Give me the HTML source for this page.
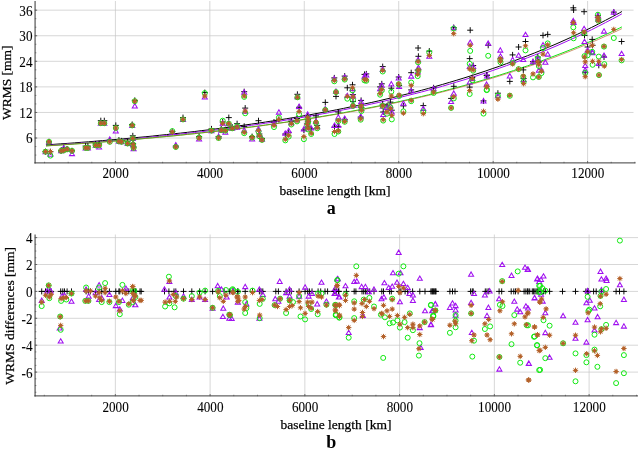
<!DOCTYPE html>
<html><head><meta charset="utf-8"><title>WRMS vs baseline length</title>
<style>.k{font-family:"Liberation Serif","Times New Roman",serif;font-size:14.8px;fill:#000;stroke:#000;stroke-width:0.1px}html,body{margin:0;padding:0;background:#fff}body{width:638px;height:452px;position:relative;overflow:hidden}.t{font-family:"Liberation Serif","Times New Roman",serif;font-size:13.5px;fill:#000;stroke:#000;stroke-width:0.25px}.tb{font-family:"Liberation Serif","Times New Roman",serif;font-size:18px;font-weight:bold;fill:#000}</style></head>
<body>
<svg width="638" height="452" viewBox="0 0 638 452" style="position:absolute;left:0;top:0;will-change:transform;opacity:0.999">
<line x1="115.40" y1="1.0" x2="115.40" y2="163.2" stroke="#c6c6c6" stroke-width="0.7"/>
<line x1="209.84" y1="1.0" x2="209.84" y2="163.2" stroke="#c6c6c6" stroke-width="0.7"/>
<line x1="304.28" y1="1.0" x2="304.28" y2="163.2" stroke="#c6c6c6" stroke-width="0.7"/>
<line x1="398.72" y1="1.0" x2="398.72" y2="163.2" stroke="#c6c6c6" stroke-width="0.7"/>
<line x1="493.16" y1="1.0" x2="493.16" y2="163.2" stroke="#c6c6c6" stroke-width="0.7"/>
<line x1="587.60" y1="1.0" x2="587.60" y2="163.2" stroke="#c6c6c6" stroke-width="0.7"/>
<line x1="34.9" y1="138.03" x2="633.5" y2="138.03" stroke="#c6c6c6" stroke-width="0.7"/>
<line x1="34.9" y1="112.46" x2="633.5" y2="112.46" stroke="#c6c6c6" stroke-width="0.7"/>
<line x1="34.9" y1="86.88" x2="633.5" y2="86.88" stroke="#c6c6c6" stroke-width="0.7"/>
<line x1="34.9" y1="61.31" x2="633.5" y2="61.31" stroke="#c6c6c6" stroke-width="0.7"/>
<line x1="34.9" y1="35.74" x2="633.5" y2="35.74" stroke="#c6c6c6" stroke-width="0.7"/>
<line x1="34.9" y1="10.17" x2="633.5" y2="10.17" stroke="#c6c6c6" stroke-width="0.7"/>
<line x1="115.35" y1="234.5" x2="115.35" y2="396.2" stroke="#c6c6c6" stroke-width="0.7"/>
<line x1="210.10" y1="234.5" x2="210.10" y2="396.2" stroke="#c6c6c6" stroke-width="0.7"/>
<line x1="304.85" y1="234.5" x2="304.85" y2="396.2" stroke="#c6c6c6" stroke-width="0.7"/>
<line x1="399.60" y1="234.5" x2="399.60" y2="396.2" stroke="#c6c6c6" stroke-width="0.7"/>
<line x1="494.35" y1="234.5" x2="494.35" y2="396.2" stroke="#c6c6c6" stroke-width="0.7"/>
<line x1="589.10" y1="234.5" x2="589.10" y2="396.2" stroke="#c6c6c6" stroke-width="0.7"/>
<line x1="34.9" y1="372.10" x2="638" y2="372.10" stroke="#c6c6c6" stroke-width="0.7"/>
<line x1="34.9" y1="345.20" x2="638" y2="345.20" stroke="#c6c6c6" stroke-width="0.7"/>
<line x1="34.9" y1="318.30" x2="638" y2="318.30" stroke="#c6c6c6" stroke-width="0.7"/>
<line x1="34.9" y1="291.40" x2="638" y2="291.40" stroke="#c6c6c6" stroke-width="0.7"/>
<line x1="34.9" y1="264.50" x2="638" y2="264.50" stroke="#c6c6c6" stroke-width="0.7"/>
<line x1="34.9" y1="237.60" x2="638" y2="237.60" stroke="#c6c6c6" stroke-width="0.7"/>
<line x1="35.1" y1="1.0" x2="35.1" y2="163.6" stroke="#777" stroke-width="1.5"/>
<line x1="34.4" y1="162.89999999999998" x2="635.5" y2="162.89999999999998" stroke="#333" stroke-width="0.95"/>
<line x1="44.57" y1="163.2" x2="44.57" y2="161.79999999999998" stroke="#555" stroke-width="0.8"/>
<line x1="68.18" y1="163.2" x2="68.18" y2="161.79999999999998" stroke="#555" stroke-width="0.8"/>
<line x1="91.79" y1="163.2" x2="91.79" y2="161.79999999999998" stroke="#555" stroke-width="0.8"/>
<line x1="115.40" y1="163.2" x2="115.40" y2="161.0" stroke="#555" stroke-width="0.8"/>
<line x1="139.01" y1="163.2" x2="139.01" y2="161.79999999999998" stroke="#555" stroke-width="0.8"/>
<line x1="162.62" y1="163.2" x2="162.62" y2="161.79999999999998" stroke="#555" stroke-width="0.8"/>
<line x1="186.23" y1="163.2" x2="186.23" y2="161.79999999999998" stroke="#555" stroke-width="0.8"/>
<line x1="209.84" y1="163.2" x2="209.84" y2="161.0" stroke="#555" stroke-width="0.8"/>
<line x1="233.45" y1="163.2" x2="233.45" y2="161.79999999999998" stroke="#555" stroke-width="0.8"/>
<line x1="257.06" y1="163.2" x2="257.06" y2="161.79999999999998" stroke="#555" stroke-width="0.8"/>
<line x1="280.67" y1="163.2" x2="280.67" y2="161.79999999999998" stroke="#555" stroke-width="0.8"/>
<line x1="304.28" y1="163.2" x2="304.28" y2="161.0" stroke="#555" stroke-width="0.8"/>
<line x1="327.89" y1="163.2" x2="327.89" y2="161.79999999999998" stroke="#555" stroke-width="0.8"/>
<line x1="351.50" y1="163.2" x2="351.50" y2="161.79999999999998" stroke="#555" stroke-width="0.8"/>
<line x1="375.11" y1="163.2" x2="375.11" y2="161.79999999999998" stroke="#555" stroke-width="0.8"/>
<line x1="398.72" y1="163.2" x2="398.72" y2="161.0" stroke="#555" stroke-width="0.8"/>
<line x1="422.33" y1="163.2" x2="422.33" y2="161.79999999999998" stroke="#555" stroke-width="0.8"/>
<line x1="445.94" y1="163.2" x2="445.94" y2="161.79999999999998" stroke="#555" stroke-width="0.8"/>
<line x1="469.55" y1="163.2" x2="469.55" y2="161.79999999999998" stroke="#555" stroke-width="0.8"/>
<line x1="493.16" y1="163.2" x2="493.16" y2="161.0" stroke="#555" stroke-width="0.8"/>
<line x1="516.77" y1="163.2" x2="516.77" y2="161.79999999999998" stroke="#555" stroke-width="0.8"/>
<line x1="540.38" y1="163.2" x2="540.38" y2="161.79999999999998" stroke="#555" stroke-width="0.8"/>
<line x1="563.99" y1="163.2" x2="563.99" y2="161.79999999999998" stroke="#555" stroke-width="0.8"/>
<line x1="587.60" y1="163.2" x2="587.60" y2="161.0" stroke="#555" stroke-width="0.8"/>
<line x1="611.21" y1="163.2" x2="611.21" y2="161.79999999999998" stroke="#555" stroke-width="0.8"/>
<line x1="634.82" y1="163.2" x2="634.82" y2="161.79999999999998" stroke="#555" stroke-width="0.8"/>
<line x1="34.9" y1="155.08" x2="36.3" y2="155.08" stroke="#555" stroke-width="0.8"/>
<line x1="34.9" y1="146.55" x2="36.3" y2="146.55" stroke="#555" stroke-width="0.8"/>
<line x1="34.9" y1="138.03" x2="36.3" y2="138.03" stroke="#555" stroke-width="0.8"/>
<line x1="34.9" y1="129.50" x2="36.3" y2="129.50" stroke="#555" stroke-width="0.8"/>
<line x1="34.9" y1="120.98" x2="36.3" y2="120.98" stroke="#555" stroke-width="0.8"/>
<line x1="34.9" y1="112.46" x2="36.3" y2="112.46" stroke="#555" stroke-width="0.8"/>
<line x1="34.9" y1="103.93" x2="36.3" y2="103.93" stroke="#555" stroke-width="0.8"/>
<line x1="34.9" y1="95.41" x2="36.3" y2="95.41" stroke="#555" stroke-width="0.8"/>
<line x1="34.9" y1="86.88" x2="36.3" y2="86.88" stroke="#555" stroke-width="0.8"/>
<line x1="34.9" y1="78.36" x2="36.3" y2="78.36" stroke="#555" stroke-width="0.8"/>
<line x1="34.9" y1="69.84" x2="36.3" y2="69.84" stroke="#555" stroke-width="0.8"/>
<line x1="34.9" y1="61.31" x2="36.3" y2="61.31" stroke="#555" stroke-width="0.8"/>
<line x1="34.9" y1="52.79" x2="36.3" y2="52.79" stroke="#555" stroke-width="0.8"/>
<line x1="34.9" y1="44.26" x2="36.3" y2="44.26" stroke="#555" stroke-width="0.8"/>
<line x1="34.9" y1="35.74" x2="36.3" y2="35.74" stroke="#555" stroke-width="0.8"/>
<line x1="34.9" y1="27.22" x2="36.3" y2="27.22" stroke="#555" stroke-width="0.8"/>
<line x1="34.9" y1="18.69" x2="36.3" y2="18.69" stroke="#555" stroke-width="0.8"/>
<line x1="34.9" y1="10.17" x2="36.3" y2="10.17" stroke="#555" stroke-width="0.8"/>
<line x1="34.9" y1="138.03" x2="37.199999999999996" y2="138.03" stroke="#555" stroke-width="0.8"/>
<line x1="34.9" y1="112.46" x2="37.199999999999996" y2="112.46" stroke="#555" stroke-width="0.8"/>
<line x1="34.9" y1="86.88" x2="37.199999999999996" y2="86.88" stroke="#555" stroke-width="0.8"/>
<line x1="34.9" y1="61.31" x2="37.199999999999996" y2="61.31" stroke="#555" stroke-width="0.8"/>
<line x1="34.9" y1="35.74" x2="37.199999999999996" y2="35.74" stroke="#555" stroke-width="0.8"/>
<line x1="34.9" y1="10.17" x2="37.199999999999996" y2="10.17" stroke="#555" stroke-width="0.8"/>
<line x1="35.1" y1="234.5" x2="35.1" y2="396.59999999999997" stroke="#777" stroke-width="1.5"/>
<line x1="34.4" y1="395.9" x2="638" y2="395.9" stroke="#333" stroke-width="0.95"/>
<line x1="44.29" y1="396.2" x2="44.29" y2="394.8" stroke="#555" stroke-width="0.8"/>
<line x1="67.97" y1="396.2" x2="67.97" y2="394.8" stroke="#555" stroke-width="0.8"/>
<line x1="91.66" y1="396.2" x2="91.66" y2="394.8" stroke="#555" stroke-width="0.8"/>
<line x1="115.35" y1="396.2" x2="115.35" y2="394.0" stroke="#555" stroke-width="0.8"/>
<line x1="139.04" y1="396.2" x2="139.04" y2="394.8" stroke="#555" stroke-width="0.8"/>
<line x1="162.72" y1="396.2" x2="162.72" y2="394.8" stroke="#555" stroke-width="0.8"/>
<line x1="186.41" y1="396.2" x2="186.41" y2="394.8" stroke="#555" stroke-width="0.8"/>
<line x1="210.10" y1="396.2" x2="210.10" y2="394.0" stroke="#555" stroke-width="0.8"/>
<line x1="233.79" y1="396.2" x2="233.79" y2="394.8" stroke="#555" stroke-width="0.8"/>
<line x1="257.48" y1="396.2" x2="257.48" y2="394.8" stroke="#555" stroke-width="0.8"/>
<line x1="281.16" y1="396.2" x2="281.16" y2="394.8" stroke="#555" stroke-width="0.8"/>
<line x1="304.85" y1="396.2" x2="304.85" y2="394.0" stroke="#555" stroke-width="0.8"/>
<line x1="328.54" y1="396.2" x2="328.54" y2="394.8" stroke="#555" stroke-width="0.8"/>
<line x1="352.23" y1="396.2" x2="352.23" y2="394.8" stroke="#555" stroke-width="0.8"/>
<line x1="375.91" y1="396.2" x2="375.91" y2="394.8" stroke="#555" stroke-width="0.8"/>
<line x1="399.60" y1="396.2" x2="399.60" y2="394.0" stroke="#555" stroke-width="0.8"/>
<line x1="423.29" y1="396.2" x2="423.29" y2="394.8" stroke="#555" stroke-width="0.8"/>
<line x1="446.98" y1="396.2" x2="446.98" y2="394.8" stroke="#555" stroke-width="0.8"/>
<line x1="470.66" y1="396.2" x2="470.66" y2="394.8" stroke="#555" stroke-width="0.8"/>
<line x1="494.35" y1="396.2" x2="494.35" y2="394.0" stroke="#555" stroke-width="0.8"/>
<line x1="518.04" y1="396.2" x2="518.04" y2="394.8" stroke="#555" stroke-width="0.8"/>
<line x1="541.73" y1="396.2" x2="541.73" y2="394.8" stroke="#555" stroke-width="0.8"/>
<line x1="565.41" y1="396.2" x2="565.41" y2="394.8" stroke="#555" stroke-width="0.8"/>
<line x1="589.10" y1="396.2" x2="589.10" y2="394.0" stroke="#555" stroke-width="0.8"/>
<line x1="612.79" y1="396.2" x2="612.79" y2="394.8" stroke="#555" stroke-width="0.8"/>
<line x1="636.48" y1="396.2" x2="636.48" y2="394.8" stroke="#555" stroke-width="0.8"/>
<line x1="34.9" y1="392.27" x2="36.3" y2="392.27" stroke="#555" stroke-width="0.8"/>
<line x1="34.9" y1="385.55" x2="36.3" y2="385.55" stroke="#555" stroke-width="0.8"/>
<line x1="34.9" y1="378.82" x2="36.3" y2="378.82" stroke="#555" stroke-width="0.8"/>
<line x1="34.9" y1="372.10" x2="36.3" y2="372.10" stroke="#555" stroke-width="0.8"/>
<line x1="34.9" y1="365.38" x2="36.3" y2="365.38" stroke="#555" stroke-width="0.8"/>
<line x1="34.9" y1="358.65" x2="36.3" y2="358.65" stroke="#555" stroke-width="0.8"/>
<line x1="34.9" y1="351.92" x2="36.3" y2="351.92" stroke="#555" stroke-width="0.8"/>
<line x1="34.9" y1="345.20" x2="36.3" y2="345.20" stroke="#555" stroke-width="0.8"/>
<line x1="34.9" y1="338.47" x2="36.3" y2="338.47" stroke="#555" stroke-width="0.8"/>
<line x1="34.9" y1="331.75" x2="36.3" y2="331.75" stroke="#555" stroke-width="0.8"/>
<line x1="34.9" y1="325.02" x2="36.3" y2="325.02" stroke="#555" stroke-width="0.8"/>
<line x1="34.9" y1="318.30" x2="36.3" y2="318.30" stroke="#555" stroke-width="0.8"/>
<line x1="34.9" y1="311.57" x2="36.3" y2="311.57" stroke="#555" stroke-width="0.8"/>
<line x1="34.9" y1="304.85" x2="36.3" y2="304.85" stroke="#555" stroke-width="0.8"/>
<line x1="34.9" y1="298.12" x2="36.3" y2="298.12" stroke="#555" stroke-width="0.8"/>
<line x1="34.9" y1="291.40" x2="36.3" y2="291.40" stroke="#555" stroke-width="0.8"/>
<line x1="34.9" y1="284.67" x2="36.3" y2="284.67" stroke="#555" stroke-width="0.8"/>
<line x1="34.9" y1="277.95" x2="36.3" y2="277.95" stroke="#555" stroke-width="0.8"/>
<line x1="34.9" y1="271.22" x2="36.3" y2="271.22" stroke="#555" stroke-width="0.8"/>
<line x1="34.9" y1="264.50" x2="36.3" y2="264.50" stroke="#555" stroke-width="0.8"/>
<line x1="34.9" y1="257.77" x2="36.3" y2="257.77" stroke="#555" stroke-width="0.8"/>
<line x1="34.9" y1="251.05" x2="36.3" y2="251.05" stroke="#555" stroke-width="0.8"/>
<line x1="34.9" y1="244.32" x2="36.3" y2="244.32" stroke="#555" stroke-width="0.8"/>
<line x1="34.9" y1="237.60" x2="36.3" y2="237.60" stroke="#555" stroke-width="0.8"/>
<line x1="34.9" y1="372.10" x2="37.199999999999996" y2="372.10" stroke="#555" stroke-width="0.8"/>
<line x1="34.9" y1="345.20" x2="37.199999999999996" y2="345.20" stroke="#555" stroke-width="0.8"/>
<line x1="34.9" y1="318.30" x2="37.199999999999996" y2="318.30" stroke="#555" stroke-width="0.8"/>
<line x1="34.9" y1="291.40" x2="37.199999999999996" y2="291.40" stroke="#555" stroke-width="0.8"/>
<line x1="34.9" y1="264.50" x2="37.199999999999996" y2="264.50" stroke="#555" stroke-width="0.8"/>
<line x1="34.9" y1="237.60" x2="37.199999999999996" y2="237.60" stroke="#555" stroke-width="0.8"/>
<text transform="translate(115.60,178.0) scale(0.89,1)" text-anchor="middle" class="k">2000</text>
<text transform="translate(115.55,411.5) scale(0.89,1)" text-anchor="middle" class="k">2000</text>
<text transform="translate(210.04,178.0) scale(0.89,1)" text-anchor="middle" class="k">4000</text>
<text transform="translate(210.30,411.5) scale(0.89,1)" text-anchor="middle" class="k">4000</text>
<text transform="translate(304.48,178.0) scale(0.89,1)" text-anchor="middle" class="k">6000</text>
<text transform="translate(305.05,411.5) scale(0.89,1)" text-anchor="middle" class="k">6000</text>
<text transform="translate(398.92,178.0) scale(0.89,1)" text-anchor="middle" class="k">8000</text>
<text transform="translate(399.80,411.5) scale(0.89,1)" text-anchor="middle" class="k">8000</text>
<text transform="translate(493.36,178.0) scale(0.89,1)" text-anchor="middle" class="k">10000</text>
<text transform="translate(494.55,411.5) scale(0.89,1)" text-anchor="middle" class="k">10000</text>
<text transform="translate(587.80,178.0) scale(0.89,1)" text-anchor="middle" class="k">12000</text>
<text transform="translate(589.30,411.5) scale(0.89,1)" text-anchor="middle" class="k">12000</text>
<text transform="translate(32.5,143.43) scale(0.89,1)" text-anchor="end" class="k">6</text>
<text transform="translate(32.5,117.86) scale(0.89,1)" text-anchor="end" class="k">12</text>
<text transform="translate(32.5,92.28) scale(0.89,1)" text-anchor="end" class="k">18</text>
<text transform="translate(32.5,66.71) scale(0.89,1)" text-anchor="end" class="k">24</text>
<text transform="translate(32.5,41.14) scale(0.89,1)" text-anchor="end" class="k">30</text>
<text transform="translate(32.5,15.57) scale(0.89,1)" text-anchor="end" class="k">36</text>
<text transform="translate(32.5,377.50) scale(0.89,1)" text-anchor="end" class="k">-6</text>
<text transform="translate(32.5,350.60) scale(0.89,1)" text-anchor="end" class="k">-4</text>
<text transform="translate(32.5,323.70) scale(0.89,1)" text-anchor="end" class="k">-2</text>
<text transform="translate(32.5,296.80) scale(0.89,1)" text-anchor="end" class="k">0</text>
<text transform="translate(32.5,269.90) scale(0.89,1)" text-anchor="end" class="k">2</text>
<text transform="translate(32.5,243.00) scale(0.89,1)" text-anchor="end" class="k">4</text>
<text x="335.0" y="195.2" text-anchor="middle" class="t">baseline length [km]</text>
<text x="336.0" y="428.6" text-anchor="middle" class="t">baseline length [km]</text>
<text transform="translate(11.4,82.7) rotate(-90)" text-anchor="middle" class="t">WRMS [mm]</text>
<text transform="translate(13.6,315.8) rotate(-90)" text-anchor="middle" class="t">WRMS differences [mm]</text>
<text x="331.3" y="214.3" text-anchor="middle" class="tb">a</text>
<text x="331.3" y="447.6" text-anchor="middle" class="tb">b</text>
<polyline points="46.0,144.9 53.1,144.4 60.2,143.9 67.2,143.4 74.3,142.9 81.4,142.3 88.5,141.8 95.6,141.2 102.7,140.6 109.7,140.0 116.8,139.4 123.9,138.8 131.0,138.1 138.1,137.4 145.1,136.8 152.2,136.1 159.3,135.3 166.4,134.6 173.5,133.8 180.6,133.1 187.6,132.3 194.7,131.5 201.8,130.6 208.9,129.8 216.0,128.9 223.1,128.0 230.1,127.0 237.2,126.1 244.3,125.1 251.4,124.1 258.5,123.1 265.6,122.0 272.6,120.9 279.7,119.8 286.8,118.7 293.9,117.5 301.0,116.3 308.1,115.1 315.1,113.8 322.2,112.5 329.3,111.2 336.4,109.8 343.5,108.4 350.6,106.9 357.6,105.5 364.7,103.9 371.8,102.4 378.9,100.8 386.0,99.1 393.1,97.5 400.1,95.7 407.2,94.0 414.3,92.2 421.4,90.3 428.5,88.4 435.6,86.4 442.6,84.4 449.7,82.3 456.8,80.2 463.9,78.0 471.0,75.8 478.0,73.5 485.1,71.2 492.2,68.7 499.3,66.3 506.4,63.7 513.5,61.1 520.5,58.4 527.6,55.7 534.7,52.9 541.8,50.0 548.9,47.0 556.0,44.0 563.0,40.9 570.1,37.7 577.2,34.4 584.3,31.0 591.4,27.5 598.5,24.0 605.5,20.3 612.6,16.6 619.7,12.8 621.9,11.5" fill="none" stroke="#000000" stroke-width="1"/>
<polyline points="46.0,145.6 53.1,145.1 60.2,144.6 67.2,144.1 74.3,143.6 81.4,143.1 88.5,142.6 95.6,142.0 102.7,141.4 109.7,140.9 116.8,140.3 123.9,139.6 131.0,139.0 138.1,138.4 145.1,137.7 152.2,137.0 159.3,136.3 166.4,135.6 173.5,134.8 180.6,134.1 187.6,133.3 194.7,132.5 201.8,131.7 208.9,130.8 216.0,130.0 223.1,129.1 230.1,128.2 237.2,127.2 244.3,126.3 251.4,125.3 258.5,124.3 265.6,123.2 272.6,122.2 279.7,121.1 286.8,120.0 293.9,118.8 301.0,117.6 308.1,116.4 315.1,115.2 322.2,113.9 329.3,112.6 336.4,111.2 343.5,109.8 350.6,108.4 357.6,107.0 364.7,105.5 371.8,103.9 378.9,102.4 386.0,100.7 393.1,99.1 400.1,97.4 407.2,95.6 414.3,93.8 421.4,92.0 428.5,90.1 435.6,88.2 442.6,86.2 449.7,84.1 456.8,82.0 463.9,79.9 471.0,77.7 478.0,75.4 485.1,73.1 492.2,70.7 499.3,68.2 506.4,65.7 513.5,63.1 520.5,60.5 527.6,57.7 534.7,55.0 541.8,52.1 548.9,49.1 556.0,46.1 563.0,43.0 570.1,39.8 577.2,36.6 584.3,33.2 591.4,29.8 598.5,26.2 605.5,22.6 612.6,18.9 619.7,15.1 621.9,13.8" fill="none" stroke="#a010f0" stroke-width="1"/>
<polyline points="46.0,145.9 53.1,145.4 60.2,145.0 67.2,144.5 74.3,144.0 81.4,143.5 88.5,143.0 95.6,142.5 102.7,142.0 109.7,141.4 116.8,140.8 123.9,140.3 131.0,139.7 138.1,139.1 145.1,138.4 152.2,137.8 159.3,137.1 166.4,136.5 173.5,135.8 180.6,135.1 187.6,134.3 194.7,133.6 201.8,132.8 208.9,132.0 216.0,131.2 223.1,130.4 230.1,129.6 237.2,128.7 244.3,127.8 251.4,126.9 258.5,126.0 265.6,125.0 272.6,124.0 279.7,123.0 286.8,122.0 293.9,120.9 301.0,119.8 308.1,118.7 315.1,117.6 322.2,116.4 329.3,115.2 336.4,114.0 343.5,112.7 350.6,111.4 357.6,110.1 364.7,108.7 371.8,107.3 378.9,105.9 386.0,104.4 393.1,102.9 400.1,101.4 407.2,99.8 414.3,98.2 421.4,96.5 428.5,94.8 435.6,93.1 442.6,91.3 449.7,89.4 456.8,87.5 463.9,85.6 471.0,83.6 478.0,81.6 485.1,79.5 492.2,77.3 499.3,75.2 506.4,72.9 513.5,70.6 520.5,68.2 527.6,65.8 534.7,63.3 541.8,60.8 548.9,58.1 556.0,55.4 563.0,52.7 570.1,49.9 577.2,47.0 584.3,44.0 591.4,41.0 598.5,37.8 605.5,34.6 612.6,31.4 619.7,28.0 621.9,26.9" fill="none" stroke="#10e810" stroke-width="1"/>
<polyline points="46.0,145.9 53.1,145.5 60.2,145.0 67.2,144.5 74.3,144.0 81.4,143.6 88.5,143.0 95.6,142.5 102.7,142.0 109.7,141.4 116.8,140.9 123.9,140.3 131.0,139.7 138.1,139.1 145.1,138.5 152.2,137.9 159.3,137.2 166.4,136.5 173.5,135.9 180.6,135.2 187.6,134.4 194.7,133.7 201.8,132.9 208.9,132.2 216.0,131.4 223.1,130.6 230.1,129.7 237.2,128.9 244.3,128.0 251.4,127.1 258.5,126.2 265.6,125.2 272.6,124.2 279.7,123.2 286.8,122.2 293.9,121.2 301.0,120.1 308.1,119.0 315.1,117.9 322.2,116.7 329.3,115.5 336.4,114.3 343.5,113.1 350.6,111.8 357.6,110.5 364.7,109.1 371.8,107.8 378.9,106.3 386.0,104.9 393.1,103.4 400.1,101.9 407.2,100.3 414.3,98.7 421.4,97.1 428.5,95.4 435.6,93.7 442.6,91.9 449.7,90.1 456.8,88.2 463.9,86.3 471.0,84.4 478.0,82.4 485.1,80.3 492.2,78.2 499.3,76.0 506.4,73.8 513.5,71.5 520.5,69.2 527.6,66.8 534.7,64.4 541.8,61.9 548.9,59.3 556.0,56.7 563.0,53.9 570.1,51.2 577.2,48.3 584.3,45.4 591.4,42.4 598.5,39.4 605.5,36.2 612.6,33.0 619.7,29.7 621.9,28.6" fill="none" stroke="#b4622a" stroke-width="1" stroke-opacity="0.65"/>
<path d="M42.5 151.7H48.5M45.5 148.7V154.7M46.0 141.8H52.0M49.0 138.8V144.8M47.4 151.7H53.4M50.4 148.7V154.7M58.1 150.8H64.1M61.1 147.8V153.8M60.7 147.9H66.7M63.7 144.9V150.9M64.1 149.2H70.1M67.1 146.2V152.2M69.0 150.8H75.0M72.0 147.8V153.8M82.6 146.1H88.6M85.6 143.1V149.1M84.9 146.1H90.9M87.9 143.1V149.1M92.6 143.9H98.6M95.6 140.9V146.9M96.1 143.9H102.1M99.1 140.9V146.9M97.8 120.7H103.8M100.8 117.7V123.7M101.3 120.7H107.3M104.3 117.7V123.7M106.8 140.1H112.8M109.8 137.1V143.1M112.8 125.4H118.8M115.8 122.4V128.4M115.9 140.1H121.9M118.9 137.1V143.1M118.5 140.9H124.5M121.5 137.9V143.9M124.6 141.8H130.6M127.6 138.8V144.8M129.2 124.5H135.2M132.2 121.5V127.5M129.8 135.8H135.8M132.8 132.8V138.8M130.1 143.5H136.1M133.1 140.5V146.5M130.6 147.0H136.6M133.6 144.0V150.0M131.8 100.4H137.8M134.8 97.4V103.4M169.3 131.5H175.3M172.3 128.5V134.5M172.8 146.1H178.8M175.8 143.1V149.1M180.0 117.6H186.0M183.0 114.6V120.6M196.1 136.6H202.1M199.1 133.6V139.6M201.8 92.6H207.8M204.8 89.6V95.6M208.5 128.9H214.5M211.5 125.9V131.9M215.6 136.6H221.6M218.6 133.6V139.6M218.2 128.9H224.2M221.2 125.9V131.9M219.7 122.0H225.7M222.7 119.0V125.0M222.3 129.7H228.3M225.3 126.7V132.7M225.8 117.6H231.8M228.8 114.6V120.6M229.2 127.1H235.2M232.2 124.1V130.1M234.1 123.7H240.1M237.1 120.7V126.7M241.2 91.7H247.2M244.2 88.7V94.7M242.2 108.1H248.2M245.2 105.1V111.1M241.2 126.3H247.2M244.2 123.3V129.3M249.1 136.6H255.1M252.1 133.6V139.6M255.5 120.7H261.5M258.5 117.7V123.7M256.4 134.0H262.4M259.4 131.0V137.0M259.0 138.4H265.0M262.0 135.4V141.4M271.0 122.0H277.0M274.0 119.0V125.0M275.9 119.4H281.9M278.9 116.4V122.4M282.3 134.0H288.3M285.3 131.0V137.0M285.7 132.3H291.7M288.7 129.3V135.3M288.3 121.1H294.3M291.3 118.1V124.1M294.4 94.3H300.4M297.4 91.3V97.3M296.1 107.3H302.1M299.1 104.3V110.3M294.0 118.5H300.0M297.0 115.5V121.5M300.9 130.1H306.9M303.9 127.1V133.1M304.7 115.9H310.7M307.7 112.9V118.9M305.1 119.7H311.1M308.1 116.7V122.7M304.4 123.7H310.4M307.4 120.7V126.7M305.1 127.1H311.1M308.1 124.1V130.1M308.2 128.9H314.2M311.2 125.9V131.9M313.0 115.9H319.0M316.0 112.9V118.9M314.2 125.4H320.2M317.2 122.4V128.4M322.3 102.4H328.3M325.3 99.4V105.4M331.5 127.1H337.5M334.5 124.1V130.1M335.3 126.6H341.3M338.3 123.6V129.6M335.3 112.0H341.3M338.3 109.0V115.0M341.7 119.4H347.7M344.7 116.4V122.4M333.0 96.4H339.0M336.0 93.4V99.4M344.3 87.8H350.3M347.3 84.8V90.8M349.5 84.8H355.5M352.5 81.8V87.8M350.0 94.7H356.0M353.0 91.7V97.7M350.0 101.6H356.0M353.0 98.6V104.6M358.1 100.4H364.1M361.1 97.4V103.4M358.4 107.6H364.4M361.4 104.6V110.6M357.7 117.1H363.7M360.7 114.1V120.1M377.1 86.9H383.1M380.1 83.9V89.9M378.8 83.8H384.8M381.8 80.8V86.8M379.7 104.2H385.7M382.7 101.2V107.2M380.2 112.0H386.2M383.2 109.0V115.0M384.0 105.9H390.0M387.0 102.9V108.9M387.4 102.1H393.4M390.4 99.1V105.1M388.8 110.2H394.8M391.8 107.2V113.2M400.4 105.9H406.4M403.4 102.9V108.9M420.3 105.6H426.3M423.3 102.6V108.6M430.6 87.8H436.6M433.6 84.8V90.8M331.3 77.9H337.3M334.3 74.9V80.9M341.7 76.1H347.7M344.7 73.1V79.1M361.5 74.4H367.5M364.5 71.4V77.4M363.3 73.9H369.3M366.3 70.9V76.9M379.7 66.6H385.7M382.7 63.6V69.6M388.3 88.2H394.3M391.3 85.2V91.2M395.7 77.0H401.7M398.7 74.0V80.0M396.1 85.6H402.1M399.1 82.6V88.6M408.2 72.7H414.2M411.2 69.7V75.7M408.2 89.9H414.2M411.2 86.9V92.9M415.1 48.0H421.1M418.1 45.0V51.0M415.4 56.3H421.4M418.4 53.3V59.3M414.7 70.1H420.7M417.7 67.1V73.1M426.3 51.1H432.3M429.3 48.1V54.1M450.7 27.6H456.7M453.7 24.6V30.6M467.2 30.2H473.2M470.2 27.2V33.2M485.2 45.3H491.2M488.2 42.3V48.3M509.6 54.9H515.6M512.6 51.9V57.9M515.6 47.0H521.6M518.6 44.0V50.0M522.5 41.5H528.5M525.5 38.5V44.5M484.0 75.1H490.0M487.0 72.1V78.1M450.8 86.3H456.8M453.8 83.3V89.3M448.1 98.4H454.1M451.1 95.4V101.4M466.7 58.6H472.7M469.7 55.6V61.6M470.2 65.5H476.2M473.2 62.5V68.5M469.3 77.6H475.3M472.3 74.6V80.6M466.7 87.1H472.7M469.7 84.1V90.1M483.6 75.6H489.6M486.6 72.6V78.6M480.5 100.9H486.5M483.5 97.9V103.9M494.9 93.2H500.9M497.9 90.2V96.2M506.8 81.4H512.8M509.8 78.4V84.4M520.3 69.9H526.3M523.3 66.9V72.9M520.6 78.5H526.6M523.6 75.5V81.5M570.3 7.8H576.3M573.3 4.8V10.8M570.6 10.0H576.6M573.6 7.0V13.0M581.1 11.7H587.1M584.1 8.7V14.7M581.5 35.4H587.5M584.5 32.4V38.4M594.9 15.5H600.9M597.9 12.5V18.5M595.3 19.0H601.3M598.3 16.0V22.0M610.8 12.1H616.8M613.8 9.1V15.1M618.6 41.5H624.6M621.6 38.5V44.5M589.2 39.4H595.2M592.2 36.4V42.4M589.6 45.3H595.6M592.6 42.3V48.3M584.6 47.0H590.6M587.6 44.0V50.0M601.0 57.0H607.0M604.0 54.0V60.0M595.8 65.3H601.8M598.8 62.3V68.3M582.2 72.7H588.2M585.2 69.7V75.7M540.0 35.4H546.0M543.0 32.4V38.4M544.7 34.4H550.7M547.7 31.4V37.4M534.8 57.0H540.8M537.8 54.0V60.0M535.8 62.0H541.8M538.8 59.0V65.0M530.0 61.7H536.0M533.0 58.7V64.7M38.7 291.4H44.7M41.7 288.4V294.4M42.5 291.4H48.5M45.5 288.4V294.4M44.3 291.4H50.3M47.3 288.4V294.4M46.3 291.4H52.3M49.3 288.4V294.4M48.1 291.4H54.1M51.1 288.4V294.4M57.7 291.4H63.7M60.7 288.4V294.4M59.8 291.4H65.8M62.8 288.4V294.4M61.5 291.4H67.5M64.5 288.4V294.4M64.1 291.4H70.1M67.1 288.4V294.4M68.5 291.4H74.5M71.5 288.4V294.4M83.1 291.4H89.1M86.1 288.4V294.4M85.4 291.4H91.4M88.4 288.4V294.4M87.4 291.4H93.4M90.4 288.4V294.4M92.6 291.4H98.6M95.6 288.4V294.4M96.1 291.4H102.1M99.1 288.4V294.4M98.7 291.4H104.7M101.7 288.4V294.4M102.1 291.4H108.1M105.1 288.4V294.4M106.4 291.4H112.4M109.4 288.4V294.4M112.8 291.4H118.8M115.8 288.4V294.4M115.9 291.4H121.9M118.9 288.4V294.4M116.8 291.4H122.8M119.8 288.4V294.4M119.4 291.4H125.4M122.4 288.4V294.4M122.9 291.4H128.9M125.9 288.4V294.4M125.8 291.4H131.8M128.8 288.4V294.4M129.8 291.4H135.8M132.8 288.4V294.4M130.6 291.4H136.6M133.6 288.4V294.4M132.4 291.4H138.4M135.4 288.4V294.4M137.0 291.4H143.0M140.0 288.4V294.4M130.5 291.4H136.5M133.5 288.4V294.4M133.0 291.4H139.0M136.0 288.4V294.4M138.2 291.4H144.2M141.2 288.4V294.4M161.5 291.4H167.5M164.5 288.4V294.4M165.9 291.4H171.9M168.9 288.4V294.4M171.0 291.4H177.0M174.0 288.4V294.4M172.8 291.4H178.8M175.8 288.4V294.4M180.5 291.4H186.5M183.5 288.4V294.4M188.8 291.4H194.8M191.8 288.4V294.4M196.6 291.4H202.6M199.6 288.4V294.4M202.1 291.4H208.1M205.1 288.4V294.4M209.6 291.4H215.6M212.6 288.4V294.4M215.1 291.4H221.1M218.1 288.4V294.4M221.1 291.4H227.1M224.1 288.4V294.4M226.3 291.4H232.3M229.3 288.4V294.4M230.6 291.4H236.6M233.6 288.4V294.4M234.9 291.4H240.9M237.9 288.4V294.4M229.6 291.4H235.6M232.6 288.4V294.4M234.8 291.4H240.8M237.8 288.4V294.4M242.2 291.4H248.2M245.2 288.4V294.4M249.5 291.4H255.5M252.5 288.4V294.4M256.4 291.4H262.4M259.4 288.4V294.4M258.1 291.4H264.1M261.1 288.4V294.4M259.8 291.4H265.8M262.8 288.4V294.4M272.8 291.4H278.8M275.8 288.4V294.4M275.4 291.4H281.4M278.4 288.4V294.4M283.1 291.4H289.1M286.1 288.4V294.4M286.6 291.4H292.6M289.6 288.4V294.4M288.3 291.4H294.3M291.3 288.4V294.4M296.1 291.4H302.1M299.1 288.4V294.4M302.1 291.4H308.1M305.1 288.4V294.4M304.7 291.4H310.7M307.7 288.4V294.4M306.4 291.4H312.4M309.4 288.4V294.4M309.0 291.4H315.0M312.0 288.4V294.4M315.1 291.4H321.1M318.1 288.4V294.4M317.7 291.4H323.7M320.7 288.4V294.4M322.0 291.4H328.0M325.0 288.4V294.4M324.6 291.4H330.6M327.6 288.4V294.4M330.6 291.4H336.6M333.6 288.4V294.4M333.2 291.4H339.2M336.2 288.4V294.4M335.8 291.4H341.8M338.8 288.4V294.4M331.3 291.4H337.3M334.3 288.4V294.4M333.0 291.4H339.0M336.0 288.4V294.4M335.6 291.4H341.6M338.6 288.4V294.4M343.4 291.4H349.4M346.4 288.4V294.4M351.2 291.4H357.2M354.2 288.4V294.4M352.9 291.4H358.9M355.9 288.4V294.4M359.0 291.4H365.0M362.0 288.4V294.4M360.7 291.4H366.7M363.7 288.4V294.4M362.4 291.4H368.4M365.4 288.4V294.4M364.1 291.4H370.1M367.1 288.4V294.4M366.7 291.4H372.7M369.7 288.4V294.4M371.0 291.4H377.0M374.0 288.4V294.4M378.8 291.4H384.8M381.8 288.4V294.4M380.5 291.4H386.5M383.5 288.4V294.4M386.6 291.4H392.6M389.6 288.4V294.4M388.3 291.4H394.3M391.3 288.4V294.4M396.1 291.4H402.1M399.1 288.4V294.4M397.8 291.4H403.8M400.8 288.4V294.4M402.1 291.4H408.1M405.1 288.4V294.4M404.7 291.4H410.7M407.7 288.4V294.4M409.6 291.4H415.6M412.6 288.4V294.4M416.8 291.4H422.8M419.8 288.4V294.4M422.0 291.4H428.0M425.0 288.4V294.4M428.9 291.4H434.9M431.9 288.4V294.4M430.6 291.4H436.6M433.6 288.4V294.4M432.4 291.4H438.4M435.4 288.4V294.4M427.9 291.4H433.9M430.9 288.4V294.4M429.6 291.4H435.6M432.6 288.4V294.4M431.3 291.4H437.3M434.3 288.4V294.4M433.0 291.4H439.0M436.0 288.4V294.4M446.9 291.4H452.9M449.9 288.4V294.4M449.5 291.4H455.5M452.5 288.4V294.4M452.0 291.4H458.0M455.0 288.4V294.4M467.6 291.4H473.6M470.6 288.4V294.4M469.3 291.4H475.3M472.3 288.4V294.4M470.2 291.4H476.2M473.2 288.4V294.4M482.3 291.4H488.3M485.3 288.4V294.4M484.0 291.4H490.0M487.0 288.4V294.4M485.7 291.4H491.7M488.7 288.4V294.4M496.1 291.4H502.1M499.1 288.4V294.4M498.7 291.4H504.7M501.7 288.4V294.4M508.2 291.4H514.2M511.2 288.4V294.4M510.8 291.4H516.8M513.8 288.4V294.4M512.5 291.4H518.5M515.5 288.4V294.4M515.1 291.4H521.1M518.1 288.4V294.4M521.1 291.4H527.1M524.1 288.4V294.4M522.9 291.4H528.9M525.9 288.4V294.4M524.6 291.4H530.6M527.6 288.4V294.4M530.6 291.4H536.6M533.6 288.4V294.4M533.2 291.4H539.2M536.2 288.4V294.4M535.8 291.4H541.8M538.8 288.4V294.4M525.0 291.4H531.0M528.0 288.4V294.4M526.7 291.4H532.7M529.7 288.4V294.4M529.3 291.4H535.3M532.3 288.4V294.4M531.9 291.4H537.9M534.9 288.4V294.4M534.5 291.4H540.5M537.5 288.4V294.4M538.0 291.4H544.0M541.0 288.4V294.4M540.5 291.4H546.5M543.5 288.4V294.4M542.3 291.4H548.3M545.3 288.4V294.4M546.6 291.4H552.6M549.6 288.4V294.4M559.5 291.4H565.5M562.5 288.4V294.4M572.5 291.4H578.5M575.5 288.4V294.4M582.9 291.4H588.9M585.9 288.4V294.4M584.6 291.4H590.6M587.6 288.4V294.4M585.4 291.4H591.4M588.4 288.4V294.4M590.6 291.4H596.6M593.6 288.4V294.4M593.2 291.4H599.2M596.2 288.4V294.4M598.4 291.4H604.4M601.4 288.4V294.4M613.1 291.4H619.1M616.1 288.4V294.4M616.5 291.4H622.5M619.5 288.4V294.4M620.9 291.4H626.9M623.9 288.4V294.4" fill="none" stroke="#000000" stroke-width="0.95"/>
<path d="M45.5 149.4L48.0 153.7H43.0ZM49.0 139.5L51.5 143.8H46.5ZM50.4 151.9L52.9 156.2H47.9ZM61.1 148.5L63.6 152.8H58.6ZM63.7 145.6L66.2 149.9H61.2ZM67.1 146.9L69.6 151.2H64.6ZM72.0 151.3L74.5 155.6H69.5ZM85.6 145.6L88.1 149.9H83.1ZM87.9 145.6L90.4 149.9H85.4ZM95.6 143.0L98.1 147.3H93.1ZM99.1 144.7L101.6 149.0H96.6ZM100.8 120.9L103.3 125.2H98.3ZM104.3 120.9L106.8 125.2H101.8ZM109.8 136.9L112.3 141.2H107.3ZM115.8 128.6L118.3 132.9H113.3ZM118.9 139.0L121.4 143.3H116.4ZM121.5 139.5L124.0 143.8H119.0ZM127.6 141.2L130.1 145.5H125.1ZM132.2 123.1L134.7 127.4H129.7ZM132.8 136.1L135.3 140.4H130.3ZM133.1 142.1L135.6 146.4H130.6ZM133.6 146.4L136.1 150.7H131.1ZM134.8 103.6L137.3 107.9H132.3ZM172.3 129.7L174.8 134.0H169.8ZM175.8 142.6L178.3 146.9H173.3ZM183.0 117.1L185.5 121.4H180.5ZM199.1 136.6L201.6 140.9H196.6ZM204.8 94.6L207.3 98.9H202.3ZM211.5 128.3L214.0 132.6H209.0ZM218.6 134.0L221.1 138.3H216.1ZM221.2 127.8L223.7 132.1H218.7ZM222.7 121.0L225.2 125.3H220.2ZM225.3 130.0L227.8 134.3H222.8ZM228.8 121.4L231.3 125.7H226.3ZM232.2 126.0L234.7 130.3H229.7ZM237.1 124.8L239.6 129.1H234.6ZM244.2 89.8L246.7 94.1H241.7ZM245.2 108.8L247.7 113.1H242.7ZM244.2 127.8L246.7 132.1H241.7ZM252.1 136.6L254.6 140.9H249.6ZM258.5 126.6L261.0 130.9H256.0ZM259.4 132.3L261.9 136.6H256.9ZM262.0 136.9L264.5 141.2H259.5ZM274.0 121.4L276.5 125.7H271.5ZM278.9 109.8L281.4 114.1H276.4ZM285.3 130.9L287.8 135.2H282.8ZM288.7 128.3L291.2 132.6H286.2ZM291.3 120.5L293.8 124.8H288.8ZM297.4 94.3L299.9 98.6H294.9ZM299.1 104.1L301.6 108.4H296.6ZM297.0 117.4L299.5 121.7H294.5ZM303.9 126.6L306.4 130.9H301.4ZM307.7 111.9L310.2 116.2H305.2ZM308.1 117.1L310.6 121.4H305.6ZM307.4 120.5L309.9 124.8H304.9ZM308.1 124.0L310.6 128.3H305.6ZM311.2 125.7L313.7 130.0H308.7ZM316.0 118.8L318.5 123.1H313.5ZM317.2 124.3L319.7 128.6H314.7ZM325.3 106.4L327.8 110.7H322.8ZM334.5 123.1L337.0 127.4H332.0ZM338.3 123.0L340.8 127.3H335.8ZM338.3 114.8L340.8 119.1H335.8ZM344.7 116.0L347.2 120.3H342.2ZM336.0 88.9L338.5 93.2H333.5ZM347.3 93.2L349.8 97.5H344.8ZM352.5 86.3L355.0 90.6H350.0ZM353.0 93.6L355.5 97.9H350.5ZM353.0 101.9L355.5 106.2H350.5ZM361.1 99.3L363.6 103.6H358.6ZM361.4 106.2L363.9 110.5H358.9ZM360.7 114.0L363.2 118.3H358.2ZM380.1 86.3L382.6 90.6H377.6ZM381.8 82.9L384.3 87.2H379.3ZM382.7 104.0L385.2 108.3H380.2ZM383.2 112.2L385.7 116.5H380.7ZM387.0 105.3L389.5 109.6H384.5ZM390.4 103.6L392.9 107.9H387.9ZM391.8 109.7L394.3 114.0H389.3ZM403.4 101.0L405.9 105.3H400.9ZM423.3 106.2L425.8 110.5H420.8ZM433.6 86.3L436.1 90.6H431.1ZM334.3 76.4L336.8 80.7H331.8ZM344.7 74.7L347.2 79.0H342.2ZM364.5 73.8L367.0 78.1H362.0ZM366.3 72.6L368.8 76.9H363.8ZM382.7 66.9L385.2 71.2H380.2ZM391.3 81.6L393.8 85.9H388.8ZM398.7 75.6L401.2 79.9H396.2ZM399.1 84.2L401.6 88.5H396.6ZM411.2 73.8L413.7 78.1H408.7ZM411.2 88.5L413.7 92.8H408.7ZM418.1 57.4L420.6 61.7H415.6ZM418.4 65.2L420.9 69.5H415.9ZM417.7 69.5L420.2 73.8H415.2ZM429.3 54.0L431.8 58.3H426.8ZM453.7 25.3L456.2 29.6H451.2ZM470.2 40.0L472.7 44.3H467.7ZM488.2 40.9L490.7 45.2H485.7ZM500.3 47.8L502.8 52.1H497.8ZM500.5 53.8L503.0 58.1H498.0ZM512.6 57.3L515.1 61.6H510.1ZM518.6 53.0L521.1 57.3H516.1ZM525.5 32.2L528.0 36.5H523.0ZM487.0 73.7L489.5 78.0H484.5ZM453.8 90.9L456.3 95.2H451.3ZM451.1 99.2L453.6 103.5H448.6ZM469.7 64.1L472.2 68.4H467.2ZM473.2 64.1L475.7 68.4H470.7ZM472.3 76.2L474.8 80.5H469.8ZM469.7 79.7L472.2 84.0H467.2ZM486.6 81.9L489.1 86.2H484.1ZM483.5 98.6L486.0 102.9H481.0ZM497.9 93.5L500.4 97.8H495.4ZM509.8 73.6L512.3 77.9H507.3ZM523.3 57.2L525.8 61.5H520.8ZM523.6 77.1L526.1 81.4H521.1ZM573.3 18.4L575.8 22.7H570.8ZM573.6 20.2L576.1 24.5H571.1ZM584.1 26.2L586.6 30.5H581.6ZM584.5 39.2L587.0 43.5H582.0ZM597.9 13.2L600.4 17.5H595.4ZM598.3 17.0L600.8 21.3H595.8ZM604.0 28.8L606.5 33.1H601.5ZM613.8 9.8L616.3 14.1H611.3ZM621.6 51.2L624.1 55.5H619.1ZM592.2 49.5L594.7 53.8H589.7ZM592.6 50.4L595.1 54.7H590.1ZM587.6 47.8L590.1 52.1H585.1ZM604.0 53.0L606.5 57.3H601.5ZM598.8 61.1L601.3 65.4H596.3ZM585.2 63.2L587.7 67.5H582.7ZM585.2 67.6L587.7 71.9H582.7ZM543.0 42.6L545.5 46.9H540.5ZM547.7 51.8L550.2 56.1H545.2ZM537.8 56.2L540.3 60.5H535.3ZM538.8 68.0L541.3 72.3H536.3ZM541.4 67.6L543.9 71.9H538.9ZM533.0 59.4L535.5 63.7H530.5ZM545.4 59.9L547.9 64.2H542.9ZM41.7 298.1L44.2 302.4H39.2ZM47.3 288.6L49.8 292.9H44.8ZM50.7 288.6L53.2 292.9H48.2ZM60.7 338.7L63.2 343.0H58.2ZM59.7 325.7L62.2 330.0H57.2ZM62.0 293.8L64.5 298.1H59.5ZM64.5 292.9L67.0 297.2H62.0ZM71.5 299.0L74.0 303.3H69.0ZM88.7 293.8L91.2 298.1H86.2ZM86.1 286.9L88.6 291.2H83.6ZM95.6 290.3L98.1 294.6H93.1ZM99.1 282.6L101.6 286.9H96.6ZM99.1 297.2L101.6 301.5H96.6ZM109.4 292.1L111.9 296.4H106.9ZM115.8 303.3L118.3 307.6H113.3ZM119.8 306.7L122.3 311.0H117.3ZM122.4 298.1L124.9 302.4H119.9ZM125.9 286.0L128.4 290.3H123.4ZM132.8 295.5L135.3 299.8H130.3ZM135.4 302.4L137.9 306.7H132.9ZM101.7 295.5L104.2 299.8H99.2ZM135.2 302.4L137.7 306.7H132.7ZM164.5 286.9L167.0 291.2H162.0ZM169.4 279.1L171.9 283.4H166.9ZM169.4 294.7L171.9 299.0H166.9ZM175.8 290.3L178.3 294.6H173.3ZM183.5 293.8L186.0 298.1H181.0ZM191.8 297.2L194.3 301.5H189.3ZM199.6 294.7L202.1 299.0H197.1ZM205.1 297.2L207.6 301.5H202.6ZM212.6 305.9L215.1 310.2H210.1ZM217.7 283.4L220.2 287.7H215.2ZM223.3 305.9L225.8 310.2H220.8ZM222.9 314.2L225.4 318.5H220.4ZM229.3 315.9L231.8 320.2H226.8ZM226.7 294.7L229.2 299.0H224.2ZM237.9 299.8L240.4 304.1H235.4ZM221.5 286.9L224.0 291.2H219.0ZM231.7 316.2L234.2 320.5H229.2ZM233.1 288.6L235.6 292.9H230.6ZM237.8 299.8L240.3 304.1H235.3ZM245.2 284.3L247.7 288.6H242.7ZM246.4 301.6L248.9 305.9H243.9ZM259.4 286.9L261.9 291.2H256.9ZM262.8 292.1L265.3 296.4H260.3ZM259.4 315.9L261.9 320.2H256.9ZM275.3 296.4L277.8 300.7H272.8ZM279.7 279.1L282.2 283.4H277.2ZM278.4 299.0L280.9 303.3H275.9ZM286.1 290.3L288.6 294.6H283.6ZM289.6 286.9L292.1 291.2H287.1ZM289.6 293.8L292.1 298.1H287.1ZM299.1 293.8L301.6 298.1H296.6ZM305.1 284.8L307.6 289.1H302.6ZM308.6 293.8L311.1 298.1H306.1ZM312.0 291.2L314.5 295.5H309.5ZM317.2 301.6L319.7 305.9H314.7ZM321.5 280.0L324.0 284.3H319.0ZM326.4 299.0L328.9 303.3H323.9ZM334.5 291.2L337.0 295.5H332.0ZM337.9 276.5L340.4 280.8H335.4ZM338.8 294.7L341.3 299.0H336.3ZM337.3 276.6L339.8 280.9H334.8ZM335.2 286.1L337.7 290.4H332.7ZM339.5 294.7L342.0 299.0H337.0ZM345.5 283.5L348.0 287.8H343.0ZM354.2 279.2L356.7 283.5H351.7ZM356.8 278.8L359.3 283.1H354.3ZM361.6 284.3L364.1 288.6H359.1ZM365.4 284.3L367.9 288.6H362.9ZM368.9 289.5L371.4 293.8H366.4ZM374.0 286.9L376.5 291.2H371.5ZM381.5 296.4L384.0 300.7H379.0ZM384.4 280.5L386.9 284.8H381.9ZM383.9 294.7L386.4 299.0H381.4ZM388.7 285.2L391.2 289.5H386.2ZM392.2 284.0L394.7 288.3H389.7ZM393.0 270.5L395.5 274.8H390.5ZM397.0 280.0L399.5 284.3H394.5ZM398.7 250.1L401.2 254.4H396.2ZM400.5 270.5L403.0 274.8H398.0ZM403.4 281.2L405.9 285.5H400.9ZM407.7 285.2L410.2 289.5H405.2ZM409.4 291.2L411.9 295.5H406.9ZM412.9 292.6L415.4 296.9H410.4ZM412.9 298.1L415.4 302.4H410.4ZM399.9 299.5L402.4 303.8H397.4ZM419.8 276.0L422.3 280.3H417.3ZM435.4 301.6L437.9 305.9H432.9ZM425.0 308.5L427.5 312.8H422.5ZM432.8 308.5L435.3 312.8H430.3ZM335.2 291.2L337.7 295.5H332.7ZM348.7 330.2L351.2 334.5H346.2ZM362.8 313.2L365.3 317.5H360.3ZM419.8 325.3L422.3 329.6H417.3ZM431.0 321.9L433.5 326.2H428.5ZM420.7 345.2L423.2 349.5H418.2ZM435.2 301.6L437.7 305.9H432.7ZM432.1 308.5L434.6 312.8H429.6ZM452.5 300.7L455.0 305.0H450.0ZM449.9 305.1L452.4 309.4H447.4ZM455.6 303.3L458.1 307.6H453.1ZM455.6 307.6L458.1 311.9H453.1ZM455.6 312.8L458.1 317.1H453.1ZM471.1 271.9L473.6 276.2H468.6ZM471.1 300.2L473.6 304.5H468.6ZM474.0 291.2L476.5 295.5H471.5ZM484.9 292.6L487.4 296.9H482.4ZM489.6 288.6L492.1 292.9H487.1ZM488.4 305.1L490.9 309.4H485.9ZM487.0 313.3L489.5 317.6H484.5ZM502.2 262.2L504.7 266.5H499.7ZM499.1 296.4L501.6 300.7H496.6ZM511.5 273.1L514.0 277.4H509.0ZM514.3 299.0L516.8 303.3H511.8ZM517.2 306.8L519.7 311.1H514.7ZM520.2 309.4L522.7 313.7H517.7ZM525.0 265.0L527.5 269.3H522.5ZM527.6 267.1L530.1 271.4H525.1ZM525.9 303.7L528.4 308.0H523.4ZM534.5 295.6L537.0 299.9H532.0ZM537.1 276.6L539.6 280.9H534.6ZM539.2 279.2L541.7 283.5H536.7ZM430.9 322.4L433.4 326.7H428.4ZM471.8 330.2L474.3 334.5H469.3ZM499.4 366.8L501.9 371.1H496.9ZM528.8 360.9L531.3 365.2H526.3ZM528.0 266.8L530.5 271.1H525.5ZM537.5 276.0L540.0 280.3H535.0ZM541.0 277.2L543.5 281.5H538.5ZM543.5 273.7L546.0 278.0H541.0ZM534.6 295.3L537.1 299.6H532.1ZM541.0 291.9L543.5 296.2H538.5ZM542.7 298.8L545.2 303.1H540.2ZM587.6 288.4L590.1 292.7H585.1ZM586.4 300.5L588.9 304.8H583.9ZM589.8 297.9L592.3 302.2H587.3ZM594.5 305.7L597.0 310.0H592.0ZM600.5 269.1L603.0 273.4H598.0ZM601.4 276.7L603.9 281.0H598.9ZM606.1 276.0L608.6 280.3H603.6ZM606.6 278.1L609.1 282.4H604.1ZM601.4 287.6L603.9 291.9H598.9ZM619.9 282.4L622.4 286.7H617.4ZM623.9 297.1L626.4 301.4H621.4ZM528.0 305.7L530.5 310.0H525.5ZM545.3 310.5L547.8 314.8H542.8ZM563.1 313.4L565.6 317.7H560.6ZM575.5 320.0L578.0 324.3H573.0ZM587.6 317.4L590.1 321.7H585.1ZM597.6 314.4L600.1 318.7H595.1ZM594.5 327.7L597.0 332.0H592.0ZM616.1 320.3L618.6 324.6H613.6ZM623.9 323.8L626.4 328.1H621.4ZM545.3 330.3L547.8 334.6H542.8ZM575.5 335.9L578.0 340.2H573.0ZM586.4 339.8L588.9 344.1H583.9ZM549.6 354.9L552.1 359.2H547.1ZM528.9 361.1L531.4 365.4H526.4Z" fill="none" stroke="#a010f0" stroke-width="1.05" stroke-linejoin="miter"/>
<g fill="none" stroke="#10e810" stroke-width="1.0">
<circle cx="45.5" cy="151.7" r="2.5"/>
<circle cx="49.0" cy="141.8" r="2.5"/>
<circle cx="50.4" cy="155.6" r="2.5"/>
<circle cx="61.1" cy="150.8" r="2.5"/>
<circle cx="63.7" cy="150.4" r="2.5"/>
<circle cx="67.1" cy="149.2" r="2.5"/>
<circle cx="72.0" cy="150.8" r="2.5"/>
<circle cx="85.6" cy="147.9" r="2.5"/>
<circle cx="87.9" cy="147.9" r="2.5"/>
<circle cx="95.6" cy="145.3" r="2.5"/>
<circle cx="99.1" cy="145.3" r="2.5"/>
<circle cx="100.8" cy="123.2" r="2.5"/>
<circle cx="104.3" cy="123.2" r="2.5"/>
<circle cx="109.8" cy="141.8" r="2.5"/>
<circle cx="115.8" cy="128.0" r="2.5"/>
<circle cx="118.9" cy="141.3" r="2.5"/>
<circle cx="121.5" cy="141.8" r="2.5"/>
<circle cx="127.6" cy="143.5" r="2.5"/>
<circle cx="132.2" cy="125.4" r="2.5"/>
<circle cx="132.8" cy="138.4" r="2.5"/>
<circle cx="133.1" cy="144.4" r="2.5"/>
<circle cx="133.6" cy="147.9" r="2.5"/>
<circle cx="134.8" cy="101.2" r="2.5"/>
<circle cx="172.3" cy="131.1" r="2.5"/>
<circle cx="175.8" cy="147.0" r="2.5"/>
<circle cx="183.0" cy="119.4" r="2.5"/>
<circle cx="199.1" cy="137.5" r="2.5"/>
<circle cx="204.8" cy="93.1" r="2.5"/>
<circle cx="211.5" cy="130.6" r="2.5"/>
<circle cx="218.6" cy="138.0" r="2.5"/>
<circle cx="221.2" cy="130.1" r="2.5"/>
<circle cx="222.7" cy="120.7" r="2.5"/>
<circle cx="225.3" cy="130.6" r="2.5"/>
<circle cx="228.8" cy="123.7" r="2.5"/>
<circle cx="232.2" cy="128.3" r="2.5"/>
<circle cx="237.1" cy="126.3" r="2.5"/>
<circle cx="244.2" cy="96.9" r="2.5"/>
<circle cx="245.2" cy="113.3" r="2.5"/>
<circle cx="244.2" cy="133.2" r="2.5"/>
<circle cx="252.1" cy="137.5" r="2.5"/>
<circle cx="258.5" cy="131.5" r="2.5"/>
<circle cx="259.4" cy="136.3" r="2.5"/>
<circle cx="262.0" cy="139.9" r="2.5"/>
<circle cx="274.0" cy="127.1" r="2.5"/>
<circle cx="278.9" cy="117.6" r="2.5"/>
<circle cx="285.3" cy="140.4" r="2.5"/>
<circle cx="288.7" cy="136.6" r="2.5"/>
<circle cx="291.3" cy="124.5" r="2.5"/>
<circle cx="297.4" cy="97.3" r="2.5"/>
<circle cx="299.1" cy="114.2" r="2.5"/>
<circle cx="297.0" cy="121.4" r="2.5"/>
<circle cx="303.9" cy="139.2" r="2.5"/>
<circle cx="307.7" cy="118.5" r="2.5"/>
<circle cx="308.1" cy="122.0" r="2.5"/>
<circle cx="307.4" cy="125.4" r="2.5"/>
<circle cx="308.1" cy="129.4" r="2.5"/>
<circle cx="311.2" cy="134.0" r="2.5"/>
<circle cx="316.0" cy="122.8" r="2.5"/>
<circle cx="317.2" cy="128.3" r="2.5"/>
<circle cx="325.3" cy="109.9" r="2.5"/>
<circle cx="334.5" cy="134.0" r="2.5"/>
<circle cx="338.3" cy="131.5" r="2.5"/>
<circle cx="338.3" cy="121.1" r="2.5"/>
<circle cx="344.7" cy="121.8" r="2.5"/>
<circle cx="336.0" cy="92.1" r="2.5"/>
<circle cx="347.3" cy="98.7" r="2.5"/>
<circle cx="352.5" cy="90.4" r="2.5"/>
<circle cx="353.0" cy="99.9" r="2.5"/>
<circle cx="353.0" cy="105.9" r="2.5"/>
<circle cx="361.1" cy="106.8" r="2.5"/>
<circle cx="361.4" cy="111.1" r="2.5"/>
<circle cx="360.7" cy="119.7" r="2.5"/>
<circle cx="380.1" cy="94.7" r="2.5"/>
<circle cx="381.8" cy="90.4" r="2.5"/>
<circle cx="382.7" cy="105.9" r="2.5"/>
<circle cx="383.2" cy="120.6" r="2.5"/>
<circle cx="387.0" cy="113.7" r="2.5"/>
<circle cx="390.4" cy="107.3" r="2.5"/>
<circle cx="391.8" cy="119.4" r="2.5"/>
<circle cx="403.4" cy="111.4" r="2.5"/>
<circle cx="423.3" cy="112.0" r="2.5"/>
<circle cx="433.6" cy="93.0" r="2.5"/>
<circle cx="334.3" cy="81.3" r="2.5"/>
<circle cx="344.7" cy="79.6" r="2.5"/>
<circle cx="364.5" cy="80.4" r="2.5"/>
<circle cx="366.3" cy="80.8" r="2.5"/>
<circle cx="382.7" cy="71.5" r="2.5"/>
<circle cx="391.3" cy="91.7" r="2.5"/>
<circle cx="398.7" cy="84.2" r="2.5"/>
<circle cx="399.1" cy="96.0" r="2.5"/>
<circle cx="411.2" cy="82.5" r="2.5"/>
<circle cx="411.2" cy="101.2" r="2.5"/>
<circle cx="418.1" cy="62.3" r="2.5"/>
<circle cx="418.4" cy="70.9" r="2.5"/>
<circle cx="417.7" cy="76.1" r="2.5"/>
<circle cx="429.3" cy="52.5" r="2.5"/>
<circle cx="453.7" cy="28.5" r="2.5"/>
<circle cx="470.2" cy="50.9" r="2.5"/>
<circle cx="488.2" cy="55.8" r="2.5"/>
<circle cx="500.3" cy="59.6" r="2.5"/>
<circle cx="500.5" cy="62.2" r="2.5"/>
<circle cx="512.6" cy="63.0" r="2.5"/>
<circle cx="518.6" cy="69.1" r="2.5"/>
<circle cx="525.5" cy="50.4" r="2.5"/>
<circle cx="487.0" cy="89.8" r="2.5"/>
<circle cx="453.8" cy="98.4" r="2.5"/>
<circle cx="451.1" cy="107.9" r="2.5"/>
<circle cx="469.7" cy="63.8" r="2.5"/>
<circle cx="473.2" cy="70.7" r="2.5"/>
<circle cx="472.3" cy="80.2" r="2.5"/>
<circle cx="469.7" cy="94.0" r="2.5"/>
<circle cx="486.6" cy="90.1" r="2.5"/>
<circle cx="483.5" cy="113.6" r="2.5"/>
<circle cx="497.9" cy="95.8" r="2.5"/>
<circle cx="509.8" cy="95.8" r="2.5"/>
<circle cx="523.3" cy="76.8" r="2.5"/>
<circle cx="523.6" cy="82.0" r="2.5"/>
<circle cx="573.3" cy="27.3" r="2.5"/>
<circle cx="573.6" cy="38.3" r="2.5"/>
<circle cx="584.1" cy="32.8" r="2.5"/>
<circle cx="584.5" cy="56.1" r="2.5"/>
<circle cx="597.9" cy="14.7" r="2.5"/>
<circle cx="598.3" cy="20.7" r="2.5"/>
<circle cx="613.8" cy="38.0" r="2.5"/>
<circle cx="621.6" cy="60.4" r="2.5"/>
<circle cx="592.2" cy="51.8" r="2.5"/>
<circle cx="592.6" cy="64.8" r="2.5"/>
<circle cx="587.6" cy="55.3" r="2.5"/>
<circle cx="604.0" cy="46.6" r="2.5"/>
<circle cx="604.3" cy="64.1" r="2.5"/>
<circle cx="598.8" cy="56.6" r="2.5"/>
<circle cx="599.0" cy="75.1" r="2.5"/>
<circle cx="585.2" cy="72.9" r="2.5"/>
<circle cx="543.0" cy="48.0" r="2.5"/>
<circle cx="547.7" cy="43.4" r="2.5"/>
<circle cx="537.8" cy="58.2" r="2.5"/>
<circle cx="538.8" cy="66.0" r="2.5"/>
<circle cx="541.4" cy="73.1" r="2.5"/>
<circle cx="538.8" cy="77.0" r="2.5"/>
<circle cx="533.0" cy="77.4" r="2.5"/>
<circle cx="41.7" cy="306.1" r="2.5"/>
<circle cx="48.7" cy="285.4" r="2.5"/>
<circle cx="49.3" cy="298.2" r="2.5"/>
<circle cx="60.2" cy="316.5" r="2.5"/>
<circle cx="60.7" cy="329.8" r="2.5"/>
<circle cx="61.1" cy="300.9" r="2.5"/>
<circle cx="66.3" cy="299.5" r="2.5"/>
<circle cx="71.5" cy="293.5" r="2.5"/>
<circle cx="86.1" cy="287.5" r="2.5"/>
<circle cx="85.3" cy="300.9" r="2.5"/>
<circle cx="88.4" cy="300.9" r="2.5"/>
<circle cx="99.1" cy="287.5" r="2.5"/>
<circle cx="101.7" cy="302.1" r="2.5"/>
<circle cx="105.1" cy="283.1" r="2.5"/>
<circle cx="109.4" cy="302.1" r="2.5"/>
<circle cx="118.9" cy="302.1" r="2.5"/>
<circle cx="119.8" cy="314.2" r="2.5"/>
<circle cx="122.4" cy="284.9" r="2.5"/>
<circle cx="128.8" cy="304.7" r="2.5"/>
<circle cx="132.8" cy="290.9" r="2.5"/>
<circle cx="135.4" cy="297.0" r="2.5"/>
<circle cx="134.3" cy="290.9" r="2.5"/>
<circle cx="132.6" cy="302.1" r="2.5"/>
<circle cx="168.9" cy="276.7" r="2.5"/>
<circle cx="165.1" cy="306.5" r="2.5"/>
<circle cx="169.4" cy="303.3" r="2.5"/>
<circle cx="174.6" cy="307.3" r="2.5"/>
<circle cx="175.8" cy="296.1" r="2.5"/>
<circle cx="183.5" cy="298.7" r="2.5"/>
<circle cx="191.8" cy="296.1" r="2.5"/>
<circle cx="199.6" cy="292.6" r="2.5"/>
<circle cx="205.1" cy="290.6" r="2.5"/>
<circle cx="212.6" cy="307.8" r="2.5"/>
<circle cx="218.1" cy="290.9" r="2.5"/>
<circle cx="225.9" cy="290.0" r="2.5"/>
<circle cx="229.3" cy="314.7" r="2.5"/>
<circle cx="233.1" cy="290.0" r="2.5"/>
<circle cx="219.8" cy="296.1" r="2.5"/>
<circle cx="232.6" cy="289.2" r="2.5"/>
<circle cx="230.0" cy="315.1" r="2.5"/>
<circle cx="237.8" cy="291.8" r="2.5"/>
<circle cx="245.2" cy="302.1" r="2.5"/>
<circle cx="245.2" cy="313.0" r="2.5"/>
<circle cx="246.4" cy="308.2" r="2.5"/>
<circle cx="252.5" cy="290.6" r="2.5"/>
<circle cx="259.7" cy="303.9" r="2.5"/>
<circle cx="259.7" cy="318.2" r="2.5"/>
<circle cx="262.8" cy="298.7" r="2.5"/>
<circle cx="274.6" cy="305.1" r="2.5"/>
<circle cx="280.1" cy="298.7" r="2.5"/>
<circle cx="286.1" cy="313.0" r="2.5"/>
<circle cx="289.6" cy="300.4" r="2.5"/>
<circle cx="293.0" cy="302.1" r="2.5"/>
<circle cx="299.1" cy="296.1" r="2.5"/>
<circle cx="300.5" cy="316.5" r="2.5"/>
<circle cx="305.1" cy="319.4" r="2.5"/>
<circle cx="308.6" cy="303.9" r="2.5"/>
<circle cx="311.2" cy="309.0" r="2.5"/>
<circle cx="317.7" cy="314.2" r="2.5"/>
<circle cx="318.1" cy="293.5" r="2.5"/>
<circle cx="321.5" cy="293.5" r="2.5"/>
<circle cx="326.4" cy="304.7" r="2.5"/>
<circle cx="335.7" cy="305.1" r="2.5"/>
<circle cx="335.7" cy="315.1" r="2.5"/>
<circle cx="337.4" cy="280.2" r="2.5"/>
<circle cx="339.2" cy="317.7" r="2.5"/>
<circle cx="337.3" cy="280.1" r="2.5"/>
<circle cx="356.3" cy="266.3" r="2.5"/>
<circle cx="403.4" cy="266.3" r="2.5"/>
<circle cx="398.7" cy="273.7" r="2.5"/>
<circle cx="369.4" cy="297.9" r="2.5"/>
<circle cx="374.0" cy="306.5" r="2.5"/>
<circle cx="392.2" cy="298.7" r="2.5"/>
<circle cx="431.0" cy="304.8" r="2.5"/>
<circle cx="435.4" cy="310.5" r="2.5"/>
<circle cx="345.5" cy="294.4" r="2.5"/>
<circle cx="335.2" cy="304.8" r="2.5"/>
<circle cx="354.2" cy="301.3" r="2.5"/>
<circle cx="363.7" cy="299.6" r="2.5"/>
<circle cx="409.8" cy="313.4" r="2.5"/>
<circle cx="433.3" cy="315.6" r="2.5"/>
<circle cx="336.0" cy="315.1" r="2.5"/>
<circle cx="336.0" cy="314.7" r="2.5"/>
<circle cx="339.5" cy="317.3" r="2.5"/>
<circle cx="348.7" cy="337.7" r="2.5"/>
<circle cx="354.2" cy="318.1" r="2.5"/>
<circle cx="384.9" cy="317.3" r="2.5"/>
<circle cx="389.6" cy="323.3" r="2.5"/>
<circle cx="393.0" cy="322.5" r="2.5"/>
<circle cx="397.4" cy="320.4" r="2.5"/>
<circle cx="399.9" cy="327.6" r="2.5"/>
<circle cx="404.6" cy="322.1" r="2.5"/>
<circle cx="407.7" cy="337.7" r="2.5"/>
<circle cx="412.9" cy="330.2" r="2.5"/>
<circle cx="419.5" cy="343.2" r="2.5"/>
<circle cx="418.9" cy="355.6" r="2.5"/>
<circle cx="383.2" cy="357.9" r="2.5"/>
<circle cx="424.6" cy="322.1" r="2.5"/>
<circle cx="433.3" cy="316.4" r="2.5"/>
<circle cx="380.9" cy="314.7" r="2.5"/>
<circle cx="430.9" cy="305.3" r="2.5"/>
<circle cx="433.1" cy="316.0" r="2.5"/>
<circle cx="455.6" cy="315.1" r="2.5"/>
<circle cx="471.1" cy="313.4" r="2.5"/>
<circle cx="502.2" cy="281.1" r="2.5"/>
<circle cx="499.9" cy="304.8" r="2.5"/>
<circle cx="502.5" cy="306.0" r="2.5"/>
<circle cx="517.7" cy="271.4" r="2.5"/>
<circle cx="514.3" cy="315.1" r="2.5"/>
<circle cx="539.2" cy="285.8" r="2.5"/>
<circle cx="539.2" cy="291.8" r="2.5"/>
<circle cx="455.6" cy="327.3" r="2.5"/>
<circle cx="449.9" cy="332.8" r="2.5"/>
<circle cx="455.6" cy="320.7" r="2.5"/>
<circle cx="474.0" cy="340.7" r="2.5"/>
<circle cx="472.3" cy="356.6" r="2.5"/>
<circle cx="484.9" cy="329.0" r="2.5"/>
<circle cx="490.1" cy="326.4" r="2.5"/>
<circle cx="499.4" cy="357.0" r="2.5"/>
<circle cx="511.5" cy="344.2" r="2.5"/>
<circle cx="520.2" cy="362.7" r="2.5"/>
<circle cx="526.7" cy="325.2" r="2.5"/>
<circle cx="534.0" cy="336.8" r="2.5"/>
<circle cx="537.1" cy="345.4" r="2.5"/>
<circle cx="539.2" cy="370.1" r="2.5"/>
<circle cx="540.1" cy="285.9" r="2.5"/>
<circle cx="542.2" cy="288.1" r="2.5"/>
<circle cx="545.3" cy="290.7" r="2.5"/>
<circle cx="540.4" cy="292.4" r="2.5"/>
<circle cx="587.6" cy="296.8" r="2.5"/>
<circle cx="601.4" cy="291.6" r="2.5"/>
<circle cx="606.1" cy="289.0" r="2.5"/>
<circle cx="600.5" cy="295.9" r="2.5"/>
<circle cx="600.2" cy="306.3" r="2.5"/>
<circle cx="619.9" cy="240.6" r="2.5"/>
<circle cx="589.3" cy="309.7" r="2.5"/>
<circle cx="528.0" cy="325.4" r="2.5"/>
<circle cx="543.5" cy="320.2" r="2.5"/>
<circle cx="549.6" cy="325.7" r="2.5"/>
<circle cx="534.6" cy="336.4" r="2.5"/>
<circle cx="537.0" cy="345.1" r="2.5"/>
<circle cx="545.3" cy="358.2" r="2.5"/>
<circle cx="540.1" cy="369.8" r="2.5"/>
<circle cx="563.1" cy="343.3" r="2.5"/>
<circle cx="575.5" cy="353.4" r="2.5"/>
<circle cx="586.4" cy="355.1" r="2.5"/>
<circle cx="586.4" cy="362.3" r="2.5"/>
<circle cx="594.5" cy="334.7" r="2.5"/>
<circle cx="594.5" cy="349.6" r="2.5"/>
<circle cx="597.4" cy="366.8" r="2.5"/>
<circle cx="606.1" cy="324.9" r="2.5"/>
<circle cx="601.4" cy="329.2" r="2.5"/>
<circle cx="623.9" cy="355.1" r="2.5"/>
<circle cx="623.9" cy="373.2" r="2.5"/>
<circle cx="588.4" cy="311.0" r="2.5"/>
<circle cx="575.5" cy="381.3" r="2.5"/>
<circle cx="616.1" cy="383.1" r="2.5"/>
</g>
<g fill="#b4622a">
<circle cx="45.5" cy="151.7" r="1.65"/>
<circle cx="49.0" cy="141.8" r="1.65"/>
<circle cx="50.4" cy="151.7" r="1.65"/>
<circle cx="61.1" cy="150.8" r="1.65"/>
<circle cx="63.7" cy="150.4" r="1.65"/>
<circle cx="67.1" cy="149.2" r="1.65"/>
<circle cx="72.0" cy="150.8" r="1.65"/>
<circle cx="85.6" cy="147.9" r="1.65"/>
<circle cx="87.9" cy="147.9" r="1.65"/>
<circle cx="95.6" cy="145.3" r="1.65"/>
<circle cx="99.1" cy="145.3" r="1.65"/>
<circle cx="100.8" cy="123.2" r="1.65"/>
<circle cx="104.3" cy="123.2" r="1.65"/>
<circle cx="109.8" cy="141.8" r="1.65"/>
<circle cx="115.8" cy="128.0" r="1.65"/>
<circle cx="118.9" cy="141.3" r="1.65"/>
<circle cx="121.5" cy="141.8" r="1.65"/>
<circle cx="127.6" cy="143.5" r="1.65"/>
<circle cx="132.2" cy="125.4" r="1.65"/>
<circle cx="132.8" cy="138.4" r="1.65"/>
<circle cx="133.1" cy="144.4" r="1.65"/>
<circle cx="133.6" cy="147.9" r="1.65"/>
<circle cx="134.8" cy="101.2" r="1.65"/>
<circle cx="172.3" cy="132.0" r="1.65"/>
<circle cx="175.8" cy="147.0" r="1.65"/>
<circle cx="183.0" cy="119.4" r="1.65"/>
<circle cx="199.1" cy="138.0" r="1.65"/>
<circle cx="204.8" cy="96.0" r="1.65"/>
<circle cx="211.5" cy="130.6" r="1.65"/>
<circle cx="218.6" cy="138.0" r="1.65"/>
<circle cx="221.2" cy="130.1" r="1.65"/>
<circle cx="222.7" cy="123.3" r="1.65"/>
<circle cx="225.3" cy="130.6" r="1.65"/>
<circle cx="228.8" cy="123.7" r="1.65"/>
<circle cx="232.2" cy="128.3" r="1.65"/>
<circle cx="237.1" cy="127.1" r="1.65"/>
<circle cx="244.2" cy="96.0" r="1.65"/>
<circle cx="245.2" cy="111.1" r="1.65"/>
<circle cx="244.2" cy="132.3" r="1.65"/>
<circle cx="252.1" cy="137.5" r="1.65"/>
<circle cx="258.5" cy="130.6" r="1.65"/>
<circle cx="259.4" cy="135.8" r="1.65"/>
<circle cx="262.0" cy="139.9" r="1.65"/>
<circle cx="274.0" cy="125.4" r="1.65"/>
<circle cx="278.9" cy="119.4" r="1.65"/>
<circle cx="285.3" cy="139.2" r="1.65"/>
<circle cx="288.7" cy="135.3" r="1.65"/>
<circle cx="291.3" cy="123.7" r="1.65"/>
<circle cx="297.4" cy="97.3" r="1.65"/>
<circle cx="299.1" cy="111.6" r="1.65"/>
<circle cx="297.0" cy="120.7" r="1.65"/>
<circle cx="303.9" cy="136.6" r="1.65"/>
<circle cx="307.7" cy="117.6" r="1.65"/>
<circle cx="308.1" cy="121.1" r="1.65"/>
<circle cx="307.4" cy="124.5" r="1.65"/>
<circle cx="308.1" cy="128.3" r="1.65"/>
<circle cx="311.2" cy="133.2" r="1.65"/>
<circle cx="316.0" cy="122.0" r="1.65"/>
<circle cx="317.2" cy="127.7" r="1.65"/>
<circle cx="325.3" cy="109.9" r="1.65"/>
<circle cx="334.5" cy="131.5" r="1.65"/>
<circle cx="338.3" cy="130.9" r="1.65"/>
<circle cx="338.3" cy="120.6" r="1.65"/>
<circle cx="344.7" cy="121.5" r="1.65"/>
<circle cx="336.0" cy="92.1" r="1.65"/>
<circle cx="347.3" cy="96.4" r="1.65"/>
<circle cx="352.5" cy="87.8" r="1.65"/>
<circle cx="353.0" cy="96.9" r="1.65"/>
<circle cx="353.0" cy="105.9" r="1.65"/>
<circle cx="361.1" cy="105.9" r="1.65"/>
<circle cx="361.4" cy="110.2" r="1.65"/>
<circle cx="360.7" cy="118.9" r="1.65"/>
<circle cx="380.1" cy="93.5" r="1.65"/>
<circle cx="381.8" cy="89.5" r="1.65"/>
<circle cx="382.7" cy="105.9" r="1.65"/>
<circle cx="383.2" cy="119.7" r="1.65"/>
<circle cx="387.0" cy="112.0" r="1.65"/>
<circle cx="390.4" cy="108.5" r="1.65"/>
<circle cx="391.8" cy="115.4" r="1.65"/>
<circle cx="403.4" cy="113.2" r="1.65"/>
<circle cx="423.3" cy="113.7" r="1.65"/>
<circle cx="433.6" cy="92.1" r="1.65"/>
<circle cx="334.3" cy="80.4" r="1.65"/>
<circle cx="344.7" cy="79.1" r="1.65"/>
<circle cx="364.5" cy="79.6" r="1.65"/>
<circle cx="366.3" cy="79.9" r="1.65"/>
<circle cx="382.7" cy="70.4" r="1.65"/>
<circle cx="391.3" cy="96.0" r="1.65"/>
<circle cx="398.7" cy="83.9" r="1.65"/>
<circle cx="399.1" cy="95.1" r="1.65"/>
<circle cx="411.2" cy="85.3" r="1.65"/>
<circle cx="411.2" cy="100.3" r="1.65"/>
<circle cx="418.1" cy="61.5" r="1.65"/>
<circle cx="418.4" cy="70.1" r="1.65"/>
<circle cx="417.7" cy="74.4" r="1.65"/>
<circle cx="429.3" cy="55.4" r="1.65"/>
<circle cx="453.7" cy="33.7" r="1.65"/>
<circle cx="470.2" cy="45.3" r="1.65"/>
<circle cx="500.3" cy="58.7" r="1.65"/>
<circle cx="500.5" cy="61.3" r="1.65"/>
<circle cx="512.6" cy="63.9" r="1.65"/>
<circle cx="518.6" cy="69.1" r="1.65"/>
<circle cx="525.5" cy="45.8" r="1.65"/>
<circle cx="487.0" cy="86.4" r="1.65"/>
<circle cx="453.8" cy="96.6" r="1.65"/>
<circle cx="451.1" cy="107.9" r="1.65"/>
<circle cx="469.7" cy="69.0" r="1.65"/>
<circle cx="473.2" cy="69.9" r="1.65"/>
<circle cx="472.3" cy="78.5" r="1.65"/>
<circle cx="469.7" cy="90.6" r="1.65"/>
<circle cx="486.6" cy="87.1" r="1.65"/>
<circle cx="483.5" cy="111.3" r="1.65"/>
<circle cx="497.9" cy="99.2" r="1.65"/>
<circle cx="509.8" cy="95.3" r="1.65"/>
<circle cx="523.3" cy="75.9" r="1.65"/>
<circle cx="523.6" cy="83.7" r="1.65"/>
<circle cx="573.3" cy="22.5" r="1.65"/>
<circle cx="573.6" cy="32.8" r="1.65"/>
<circle cx="584.1" cy="32.0" r="1.65"/>
<circle cx="584.5" cy="57.0" r="1.65"/>
<circle cx="597.9" cy="17.3" r="1.65"/>
<circle cx="598.3" cy="20.7" r="1.65"/>
<circle cx="613.8" cy="29.4" r="1.65"/>
<circle cx="621.6" cy="59.6" r="1.65"/>
<circle cx="592.2" cy="45.3" r="1.65"/>
<circle cx="592.6" cy="61.3" r="1.65"/>
<circle cx="587.6" cy="51.8" r="1.65"/>
<circle cx="604.0" cy="46.3" r="1.65"/>
<circle cx="604.3" cy="66.1" r="1.65"/>
<circle cx="598.8" cy="61.3" r="1.65"/>
<circle cx="599.0" cy="75.1" r="1.65"/>
<circle cx="585.2" cy="61.8" r="1.65"/>
<circle cx="585.2" cy="76.7" r="1.65"/>
<circle cx="543.0" cy="54.1" r="1.65"/>
<circle cx="547.7" cy="44.9" r="1.65"/>
<circle cx="537.8" cy="61.7" r="1.65"/>
<circle cx="538.8" cy="64.8" r="1.65"/>
<circle cx="541.4" cy="71.2" r="1.65"/>
<circle cx="538.8" cy="77.0" r="1.65"/>
<circle cx="533.0" cy="73.9" r="1.65"/>
<circle cx="41.7" cy="302.1" r="1.65"/>
<circle cx="45.5" cy="295.2" r="1.65"/>
<circle cx="48.7" cy="285.4" r="1.65"/>
<circle cx="49.3" cy="297.0" r="1.65"/>
<circle cx="51.1" cy="294.4" r="1.65"/>
<circle cx="60.2" cy="316.8" r="1.65"/>
<circle cx="60.7" cy="325.4" r="1.65"/>
<circle cx="61.1" cy="298.7" r="1.65"/>
<circle cx="63.7" cy="297.8" r="1.65"/>
<circle cx="66.3" cy="297.5" r="1.65"/>
<circle cx="71.5" cy="293.5" r="1.65"/>
<circle cx="86.1" cy="290.9" r="1.65"/>
<circle cx="85.6" cy="300.9" r="1.65"/>
<circle cx="88.4" cy="300.9" r="1.65"/>
<circle cx="90.4" cy="290.9" r="1.65"/>
<circle cx="95.6" cy="296.1" r="1.65"/>
<circle cx="99.1" cy="292.6" r="1.65"/>
<circle cx="99.9" cy="297.8" r="1.65"/>
<circle cx="101.7" cy="300.4" r="1.65"/>
<circle cx="105.1" cy="288.3" r="1.65"/>
<circle cx="105.1" cy="292.6" r="1.65"/>
<circle cx="109.4" cy="301.3" r="1.65"/>
<circle cx="115.8" cy="297.0" r="1.65"/>
<circle cx="118.9" cy="301.3" r="1.65"/>
<circle cx="119.8" cy="310.8" r="1.65"/>
<circle cx="122.4" cy="290.9" r="1.65"/>
<circle cx="125.9" cy="293.5" r="1.65"/>
<circle cx="128.8" cy="303.9" r="1.65"/>
<circle cx="132.8" cy="286.6" r="1.65"/>
<circle cx="132.8" cy="293.5" r="1.65"/>
<circle cx="133.1" cy="300.4" r="1.65"/>
<circle cx="135.4" cy="296.1" r="1.65"/>
<circle cx="140.0" cy="300.4" r="1.65"/>
<circle cx="132.6" cy="286.6" r="1.65"/>
<circle cx="134.3" cy="295.2" r="1.65"/>
<circle cx="133.5" cy="300.4" r="1.65"/>
<circle cx="141.2" cy="300.4" r="1.65"/>
<circle cx="169.4" cy="280.9" r="1.65"/>
<circle cx="165.1" cy="302.1" r="1.65"/>
<circle cx="169.7" cy="301.3" r="1.65"/>
<circle cx="175.3" cy="301.3" r="1.65"/>
<circle cx="173.2" cy="294.4" r="1.65"/>
<circle cx="176.6" cy="297.0" r="1.65"/>
<circle cx="183.5" cy="298.7" r="1.65"/>
<circle cx="191.8" cy="299.5" r="1.65"/>
<circle cx="199.6" cy="297.0" r="1.65"/>
<circle cx="205.1" cy="299.5" r="1.65"/>
<circle cx="212.6" cy="307.8" r="1.65"/>
<circle cx="218.1" cy="291.8" r="1.65"/>
<circle cx="219.8" cy="297.8" r="1.65"/>
<circle cx="223.3" cy="301.3" r="1.65"/>
<circle cx="225.9" cy="295.2" r="1.65"/>
<circle cx="229.3" cy="314.7" r="1.65"/>
<circle cx="233.1" cy="292.6" r="1.65"/>
<circle cx="237.9" cy="297.0" r="1.65"/>
<circle cx="238.8" cy="300.4" r="1.65"/>
<circle cx="230.0" cy="314.7" r="1.65"/>
<circle cx="232.6" cy="292.3" r="1.65"/>
<circle cx="236.9" cy="297.0" r="1.65"/>
<circle cx="237.8" cy="301.3" r="1.65"/>
<circle cx="245.2" cy="297.0" r="1.65"/>
<circle cx="245.5" cy="306.5" r="1.65"/>
<circle cx="244.2" cy="309.0" r="1.65"/>
<circle cx="252.5" cy="292.6" r="1.65"/>
<circle cx="259.7" cy="315.1" r="1.65"/>
<circle cx="259.4" cy="300.4" r="1.65"/>
<circle cx="262.0" cy="299.5" r="1.65"/>
<circle cx="274.6" cy="305.1" r="1.65"/>
<circle cx="277.5" cy="306.5" r="1.65"/>
<circle cx="280.1" cy="298.7" r="1.65"/>
<circle cx="286.1" cy="309.6" r="1.65"/>
<circle cx="289.6" cy="300.4" r="1.65"/>
<circle cx="289.6" cy="306.5" r="1.65"/>
<circle cx="292.2" cy="305.6" r="1.65"/>
<circle cx="299.1" cy="292.6" r="1.65"/>
<circle cx="299.1" cy="301.6" r="1.65"/>
<circle cx="300.5" cy="307.8" r="1.65"/>
<circle cx="305.1" cy="313.4" r="1.65"/>
<circle cx="307.7" cy="302.1" r="1.65"/>
<circle cx="308.6" cy="306.5" r="1.65"/>
<circle cx="312.0" cy="302.1" r="1.65"/>
<circle cx="311.2" cy="308.2" r="1.65"/>
<circle cx="317.7" cy="311.6" r="1.65"/>
<circle cx="318.1" cy="296.1" r="1.65"/>
<circle cx="321.5" cy="297.0" r="1.65"/>
<circle cx="326.4" cy="305.1" r="1.65"/>
<circle cx="335.7" cy="305.1" r="1.65"/>
<circle cx="335.7" cy="310.8" r="1.65"/>
<circle cx="337.4" cy="285.4" r="1.65"/>
<circle cx="339.2" cy="304.7" r="1.65"/>
<circle cx="336.9" cy="285.8" r="1.65"/>
<circle cx="356.3" cy="275.4" r="1.65"/>
<circle cx="398.7" cy="286.3" r="1.65"/>
<circle cx="403.4" cy="288.0" r="1.65"/>
<circle cx="399.9" cy="292.7" r="1.65"/>
<circle cx="345.5" cy="295.3" r="1.65"/>
<circle cx="345.5" cy="300.4" r="1.65"/>
<circle cx="335.2" cy="305.3" r="1.65"/>
<circle cx="339.5" cy="305.6" r="1.65"/>
<circle cx="335.2" cy="309.9" r="1.65"/>
<circle cx="354.2" cy="303.0" r="1.65"/>
<circle cx="354.2" cy="309.1" r="1.65"/>
<circle cx="362.0" cy="303.6" r="1.65"/>
<circle cx="364.5" cy="299.6" r="1.65"/>
<circle cx="369.4" cy="301.3" r="1.65"/>
<circle cx="366.3" cy="306.5" r="1.65"/>
<circle cx="374.0" cy="308.7" r="1.65"/>
<circle cx="383.5" cy="305.3" r="1.65"/>
<circle cx="392.2" cy="299.6" r="1.65"/>
<circle cx="392.2" cy="309.1" r="1.65"/>
<circle cx="387.0" cy="310.8" r="1.65"/>
<circle cx="381.8" cy="313.4" r="1.65"/>
<circle cx="409.8" cy="314.3" r="1.65"/>
<circle cx="435.4" cy="310.5" r="1.65"/>
<circle cx="362.5" cy="312.5" r="1.65"/>
<circle cx="339.5" cy="315.1" r="1.65"/>
<circle cx="339.5" cy="316.4" r="1.65"/>
<circle cx="348.7" cy="327.6" r="1.65"/>
<circle cx="354.2" cy="320.4" r="1.65"/>
<circle cx="362.5" cy="316.4" r="1.65"/>
<circle cx="383.5" cy="336.6" r="1.65"/>
<circle cx="389.6" cy="316.4" r="1.65"/>
<circle cx="397.4" cy="315.5" r="1.65"/>
<circle cx="399.9" cy="324.2" r="1.65"/>
<circle cx="404.6" cy="317.3" r="1.65"/>
<circle cx="407.7" cy="327.6" r="1.65"/>
<circle cx="412.9" cy="324.2" r="1.65"/>
<circle cx="412.9" cy="327.6" r="1.65"/>
<circle cx="419.8" cy="325.9" r="1.65"/>
<circle cx="419.8" cy="334.5" r="1.65"/>
<circle cx="418.9" cy="348.7" r="1.65"/>
<circle cx="424.6" cy="322.1" r="1.65"/>
<circle cx="431.9" cy="319.0" r="1.65"/>
<circle cx="381.8" cy="313.8" r="1.65"/>
<circle cx="435.2" cy="310.5" r="1.65"/>
<circle cx="471.1" cy="305.3" r="1.65"/>
<circle cx="471.1" cy="313.4" r="1.65"/>
<circle cx="502.2" cy="281.5" r="1.65"/>
<circle cx="502.5" cy="301.8" r="1.65"/>
<circle cx="499.9" cy="310.8" r="1.65"/>
<circle cx="518.1" cy="290.4" r="1.65"/>
<circle cx="527.6" cy="313.4" r="1.65"/>
<circle cx="525.0" cy="316.9" r="1.65"/>
<circle cx="539.7" cy="302.2" r="1.65"/>
<circle cx="432.6" cy="319.5" r="1.65"/>
<circle cx="449.9" cy="325.2" r="1.65"/>
<circle cx="455.0" cy="321.2" r="1.65"/>
<circle cx="455.6" cy="323.8" r="1.65"/>
<circle cx="474.0" cy="335.0" r="1.65"/>
<circle cx="471.8" cy="340.7" r="1.65"/>
<circle cx="484.9" cy="323.8" r="1.65"/>
<circle cx="488.7" cy="319.5" r="1.65"/>
<circle cx="487.0" cy="335.0" r="1.65"/>
<circle cx="490.1" cy="339.7" r="1.65"/>
<circle cx="499.4" cy="357.0" r="1.65"/>
<circle cx="514.3" cy="323.8" r="1.65"/>
<circle cx="511.5" cy="333.8" r="1.65"/>
<circle cx="520.2" cy="356.3" r="1.65"/>
<circle cx="528.4" cy="379.9" r="1.65"/>
<circle cx="526.4" cy="324.7" r="1.65"/>
<circle cx="534.5" cy="326.9" r="1.65"/>
<circle cx="537.4" cy="335.0" r="1.65"/>
<circle cx="539.2" cy="350.6" r="1.65"/>
<circle cx="541.5" cy="299.0" r="1.65"/>
<circle cx="540.1" cy="301.9" r="1.65"/>
<circle cx="546.1" cy="308.9" r="1.65"/>
<circle cx="600.5" cy="296.2" r="1.65"/>
<circle cx="606.1" cy="294.2" r="1.65"/>
<circle cx="600.2" cy="303.7" r="1.65"/>
<circle cx="619.9" cy="278.6" r="1.65"/>
<circle cx="528.0" cy="312.8" r="1.65"/>
<circle cx="543.2" cy="317.4" r="1.65"/>
<circle cx="534.6" cy="327.1" r="1.65"/>
<circle cx="537.5" cy="334.7" r="1.65"/>
<circle cx="549.6" cy="335.2" r="1.65"/>
<circle cx="545.3" cy="347.3" r="1.65"/>
<circle cx="540.1" cy="350.3" r="1.65"/>
<circle cx="563.1" cy="343.3" r="1.65"/>
<circle cx="575.5" cy="335.2" r="1.65"/>
<circle cx="575.5" cy="370.3" r="1.65"/>
<circle cx="586.7" cy="353.7" r="1.65"/>
<circle cx="588.1" cy="312.8" r="1.65"/>
<circle cx="594.5" cy="327.1" r="1.65"/>
<circle cx="600.5" cy="331.8" r="1.65"/>
<circle cx="601.4" cy="328.8" r="1.65"/>
<circle cx="606.1" cy="328.3" r="1.65"/>
<circle cx="594.5" cy="350.8" r="1.65"/>
<circle cx="597.4" cy="355.4" r="1.65"/>
<circle cx="623.9" cy="348.5" r="1.65"/>
<circle cx="616.1" cy="371.5" r="1.65"/>
<circle cx="528.9" cy="380.1" r="1.65"/>
</g>
<path d="M45.5 149.0L45.5 154.4M47.5 149.7L43.6 153.6M48.2 151.7L42.8 151.7M47.5 153.6L43.6 149.7M49.0 139.1L49.0 144.5M50.9 139.9L47.1 143.7M51.7 141.8L46.3 141.8M50.9 143.7L47.1 139.9M50.4 149.0L50.4 154.4M52.3 149.7L48.5 153.6M53.1 151.7L47.7 151.7M52.3 153.6L48.5 149.7M61.1 148.1L61.1 153.5M63.0 148.9L59.2 152.7M63.8 150.8L58.4 150.8M63.0 152.7L59.2 148.9M63.7 147.7L63.7 153.1M65.6 148.5L61.8 152.4M66.4 150.4L61.0 150.4M65.6 152.4L61.8 148.5M67.1 146.5L67.1 151.9M69.0 147.3L65.2 151.1M69.8 149.2L64.4 149.2M69.0 151.1L65.2 147.3M72.0 148.1L72.0 153.5M73.9 148.9L70.1 152.7M74.7 150.8L69.3 150.8M73.9 152.7L70.1 148.9M85.6 145.2L85.6 150.6M87.5 145.9L83.7 149.8M88.3 147.9L82.9 147.9M87.5 149.8L83.7 145.9M87.9 145.2L87.9 150.6M89.8 145.9L85.9 149.8M90.6 147.9L85.2 147.9M89.8 149.8L85.9 145.9M95.6 142.6L95.6 148.0M97.5 143.4L93.7 147.2M98.3 145.3L92.9 145.3M97.5 147.2L93.7 143.4M99.1 142.6L99.1 148.0M101.0 143.4L97.2 147.2M101.8 145.3L96.4 145.3M101.0 147.2L97.2 143.4M100.8 120.5L100.8 125.9M102.7 121.3L98.9 125.1M103.5 123.2L98.1 123.2M102.7 125.1L98.9 121.3M104.3 120.5L104.3 125.9M106.2 121.3L102.4 125.1M107.0 123.2L101.6 123.2M106.2 125.1L102.4 121.3M109.8 139.1L109.8 144.5M111.7 139.9L107.9 143.7M112.5 141.8L107.1 141.8M111.7 143.7L107.9 139.9M115.8 125.3L115.8 130.7M117.7 126.1L113.9 129.9M118.5 128.0L113.1 128.0M117.7 129.9L113.9 126.1M118.9 138.6L118.9 144.0M120.9 139.4L117.0 143.2M121.6 141.3L116.2 141.3M120.9 143.2L117.0 139.4M121.5 139.1L121.5 144.5M123.4 139.9L119.6 143.7M124.2 141.8L118.8 141.8M123.4 143.7L119.6 139.9M127.6 140.8L127.6 146.2M129.5 141.6L125.7 145.4M130.3 143.5L124.9 143.5M129.5 145.4L125.7 141.6M132.2 122.7L132.2 128.1M134.2 123.5L130.3 127.3M134.9 125.4L129.5 125.4M134.2 127.3L130.3 123.5M132.8 135.7L132.8 141.1M134.7 136.5L130.9 140.3M135.5 138.4L130.1 138.4M134.7 140.3L130.9 136.5M133.1 141.7L133.1 147.1M135.0 142.5L131.2 146.3M135.8 144.4L130.4 144.4M135.0 146.3L131.2 142.5M133.6 145.2L133.6 150.6M135.5 145.9L131.7 149.8M136.3 147.9L130.9 147.9M135.5 149.8L131.7 145.9M134.8 98.5L134.8 103.9M136.7 99.3L132.9 103.1M137.5 101.2L132.1 101.2M136.7 103.1L132.9 99.3M172.3 129.3L172.3 134.7M174.2 130.1L170.4 133.9M175.0 132.0L169.6 132.0M174.2 133.9L170.4 130.1M175.8 144.3L175.8 149.7M177.7 145.1L173.9 148.9M178.5 147.0L173.1 147.0M177.7 148.9L173.9 145.1M183.0 116.7L183.0 122.1M184.9 117.5L181.1 121.3M185.7 119.4L180.3 119.4M184.9 121.3L181.1 117.5M199.1 135.3L199.1 140.7M201.0 136.1L197.2 139.9M201.8 138.0L196.4 138.0M201.0 139.9L197.2 136.1M204.8 93.3L204.8 98.7M206.7 94.1L202.9 98.0M207.5 96.0L202.1 96.0M206.7 98.0L202.9 94.1M211.5 127.9L211.5 133.3M213.4 128.7L209.6 132.5M214.2 130.6L208.8 130.6M213.4 132.5L209.6 128.7M218.6 135.3L218.6 140.7M220.5 136.1L216.7 139.9M221.3 138.0L215.9 138.0M220.5 139.9L216.7 136.1M221.2 127.4L221.2 132.8M223.1 128.2L219.3 132.0M223.9 130.1L218.5 130.1M223.1 132.0L219.3 128.2M222.7 120.6L222.7 126.0M224.7 121.4L220.8 125.2M225.4 123.3L220.0 123.3M224.7 125.2L220.8 121.4M225.3 127.9L225.3 133.3M227.2 128.7L223.4 132.5M228.0 130.6L222.6 130.6M227.2 132.5L223.4 128.7M228.8 121.0L228.8 126.4M230.7 121.8L226.9 125.6M231.5 123.7L226.1 123.7M230.7 125.6L226.9 121.8M232.2 125.6L232.2 131.0M234.2 126.4L230.3 130.3M234.9 128.3L229.5 128.3M234.2 130.3L230.3 126.4M237.1 124.4L237.1 129.8M239.0 125.2L235.2 129.0M239.8 127.1L234.4 127.1M239.0 129.0L235.2 125.2M244.2 93.3L244.2 98.7M246.1 94.1L242.3 98.0M246.9 96.0L241.5 96.0M246.1 98.0L242.3 94.1M245.2 108.4L245.2 113.8M247.1 109.2L243.3 113.0M247.9 111.1L242.5 111.1M247.1 113.0L243.3 109.2M244.2 129.6L244.2 135.0M246.1 130.4L242.3 134.2M246.9 132.3L241.5 132.3M246.1 134.2L242.3 130.4M252.1 134.8L252.1 140.2M254.0 135.6L250.2 139.4M254.8 137.5L249.4 137.5M254.0 139.4L250.2 135.6M258.5 127.9L258.5 133.3M260.4 128.7L256.6 132.5M261.2 130.6L255.8 130.6M260.4 132.5L256.6 128.7M259.4 133.1L259.4 138.5M261.3 133.9L257.5 137.7M262.1 135.8L256.7 135.8M261.3 137.7L257.5 133.9M262.0 137.2L262.0 142.6M263.9 138.0L260.0 141.8M264.7 139.9L259.3 139.9M263.9 141.8L260.0 138.0M274.0 122.7L274.0 128.1M276.0 123.5L272.1 127.3M276.7 125.4L271.3 125.4M276.0 127.3L272.1 123.5M278.9 116.7L278.9 122.1M280.8 117.5L277.0 121.3M281.6 119.4L276.2 119.4M280.8 121.3L277.0 117.5M285.3 136.5L285.3 141.9M287.2 137.3L283.4 141.1M288.0 139.2L282.6 139.2M287.2 141.1L283.4 137.3M288.7 132.6L288.7 138.0M290.6 133.3L286.8 137.2M291.4 135.3L286.0 135.3M290.6 137.2L286.8 133.3M291.3 121.0L291.3 126.4M293.2 121.8L289.4 125.6M294.0 123.7L288.6 123.7M293.2 125.6L289.4 121.8M297.4 94.6L297.4 100.0M299.3 95.3L295.4 99.2M300.1 97.3L294.7 97.3M299.3 99.2L295.4 95.3M299.1 108.9L299.1 114.3M301.0 109.7L297.2 113.5M301.8 111.6L296.4 111.6M301.0 113.5L297.2 109.7M297.0 118.0L297.0 123.4M298.9 118.8L295.1 122.7M299.7 120.7L294.3 120.7M298.9 122.7L295.1 118.8M303.9 133.9L303.9 139.3M305.8 134.7L302.0 138.5M306.6 136.6L301.2 136.6M305.8 138.5L302.0 134.7M307.7 114.9L307.7 120.3M309.6 115.7L305.8 119.5M310.4 117.6L305.0 117.6M309.6 119.5L305.8 115.7M308.1 118.4L308.1 123.8M310.0 119.2L306.2 123.0M310.8 121.1L305.4 121.1M310.0 123.0L306.2 119.2M307.4 121.8L307.4 127.2M309.3 122.6L305.5 126.5M310.1 124.5L304.7 124.5M309.3 126.5L305.5 122.6M308.1 125.6L308.1 131.0M310.0 126.4L306.2 130.3M310.8 128.3L305.4 128.3M310.0 130.3L306.2 126.4M311.2 130.5L311.2 135.9M313.1 131.3L309.3 135.1M313.9 133.2L308.5 133.2M313.1 135.1L309.3 131.3M316.0 119.3L316.0 124.7M317.9 120.0L314.1 123.9M318.7 122.0L313.3 122.0M317.9 123.9L314.1 120.0M317.2 125.0L317.2 130.4M319.1 125.7L315.3 129.6M319.9 127.7L314.5 127.7M319.1 129.6L315.3 125.7M325.3 107.2L325.3 112.6M327.2 108.0L323.4 111.8M328.0 109.9L322.6 109.9M327.2 111.8L323.4 108.0M334.5 128.8L334.5 134.2M336.4 129.5L332.6 133.4M337.2 131.5L331.8 131.5M336.4 133.4L332.6 129.5M338.3 128.2L338.3 133.6M340.2 129.0L336.4 132.9M341.0 130.9L335.6 130.9M340.2 132.9L336.4 129.0M338.3 117.9L338.3 123.3M340.2 118.7L336.4 122.5M341.0 120.6L335.6 120.6M340.2 122.5L336.4 118.7M344.7 118.8L344.7 124.2M346.6 119.5L342.8 123.4M347.4 121.5L342.0 121.5M346.6 123.4L342.8 119.5M336.0 89.4L336.0 94.8M338.0 90.2L334.1 94.0M338.7 92.1L333.3 92.1M338.0 94.0L334.1 90.2M347.3 93.7L347.3 99.1M349.2 94.5L345.4 98.3M350.0 96.4L344.6 96.4M349.2 98.3L345.4 94.5M352.5 85.1L352.5 90.5M354.4 85.9L350.5 89.7M355.2 87.8L349.8 87.8M354.4 89.7L350.5 85.9M353.0 94.2L353.0 99.6M354.9 95.0L351.1 98.8M355.7 96.9L350.3 96.9M354.9 98.8L351.1 95.0M353.0 103.2L353.0 108.6M354.9 104.0L351.1 107.8M355.7 105.9L350.3 105.9M354.9 107.8L351.1 104.0M361.1 103.2L361.1 108.6M363.0 104.0L359.2 107.8M363.8 105.9L358.4 105.9M363.0 107.8L359.2 104.0M361.4 107.5L361.4 112.9M363.3 108.3L359.5 112.1M364.1 110.2L358.7 110.2M363.3 112.1L359.5 108.3M360.7 116.2L360.7 121.6M362.7 117.0L358.8 120.8M363.4 118.9L358.0 118.9M362.7 120.8L358.8 117.0M380.1 90.8L380.1 96.2M382.0 91.6L378.2 95.4M382.8 93.5L377.4 93.5M382.0 95.4L378.2 91.6M381.8 86.8L381.8 92.2M383.7 87.6L379.9 91.4M384.5 89.5L379.1 89.5M383.7 91.4L379.9 87.6M382.7 103.2L382.7 108.6M384.6 104.0L380.8 107.8M385.4 105.9L380.0 105.9M384.6 107.8L380.8 104.0M383.2 117.0L383.2 122.4M385.1 117.8L381.3 121.6M385.9 119.7L380.5 119.7M385.1 121.6L381.3 117.8M387.0 109.3L387.0 114.7M388.9 110.0L385.1 113.9M389.7 112.0L384.3 112.0M388.9 113.9L385.1 110.0M390.4 105.8L390.4 111.2M392.4 106.6L388.5 110.4M393.1 108.5L387.7 108.5M392.4 110.4L388.5 106.6M391.8 112.7L391.8 118.1M393.7 113.5L389.9 117.3M394.5 115.4L389.1 115.4M393.7 117.3L389.9 113.5M403.4 110.5L403.4 115.9M405.3 111.3L401.5 115.1M406.1 113.2L400.7 113.2M405.3 115.1L401.5 111.3M423.3 111.0L423.3 116.4M425.2 111.8L421.4 115.6M426.0 113.7L420.6 113.7M425.2 115.6L421.4 111.8M433.6 89.4L433.6 94.8M435.5 90.2L431.7 94.0M436.3 92.1L430.9 92.1M435.5 94.0L431.7 90.2M334.3 77.7L334.3 83.1M336.2 78.5L332.4 82.4M337.0 80.4L331.6 80.4M336.2 82.4L332.4 78.5M344.7 76.4L344.7 81.8M346.6 77.2L342.8 81.0M347.4 79.1L342.0 79.1M346.6 81.0L342.8 77.2M364.5 76.9L364.5 82.3M366.5 77.7L362.6 81.5M367.2 79.6L361.8 79.6M366.5 81.5L362.6 77.7M366.3 77.2L366.3 82.6M368.2 78.0L364.4 81.8M369.0 79.9L363.6 79.9M368.2 81.8L364.4 78.0M382.7 67.7L382.7 73.1M384.6 68.5L380.8 72.3M385.4 70.4L380.0 70.4M384.6 72.3L380.8 68.5M391.3 93.3L391.3 98.7M393.2 94.1L389.4 97.9M394.0 96.0L388.6 96.0M393.2 97.9L389.4 94.1M398.7 81.2L398.7 86.6M400.6 82.0L396.8 85.8M401.4 83.9L396.0 83.9M400.6 85.8L396.8 82.0M399.1 92.4L399.1 97.8M401.0 93.2L397.2 97.0M401.8 95.1L396.4 95.1M401.0 97.0L397.2 93.2M411.2 82.6L411.2 88.0M413.1 83.4L409.3 87.2M413.9 85.3L408.5 85.3M413.1 87.2L409.3 83.4M411.2 97.6L411.2 103.0M413.1 98.4L409.3 102.2M413.9 100.3L408.5 100.3M413.1 102.2L409.3 98.4M418.1 58.8L418.1 64.2M420.0 59.5L416.2 63.4M420.8 61.5L415.4 61.5M420.0 63.4L416.2 59.5M418.4 67.4L418.4 72.8M420.3 68.2L416.5 72.0M421.1 70.1L415.7 70.1M420.3 72.0L416.5 68.2M417.7 71.7L417.7 77.1M419.6 72.5L415.8 76.3M420.4 74.4L415.0 74.4M419.6 76.3L415.8 72.5M429.3 52.7L429.3 58.1M431.2 53.5L427.4 57.3M432.0 55.4L426.6 55.4M431.2 57.3L427.4 53.5M453.7 31.0L453.7 36.4M455.6 31.8L451.8 35.6M456.4 33.7L451.0 33.7M455.6 35.6L451.8 31.8M470.2 42.6L470.2 48.0M472.2 43.3L468.3 47.2M472.9 45.3L467.5 45.3M472.2 47.2L468.3 43.3M500.3 56.0L500.3 61.4M502.2 56.8L498.4 60.6M503.0 58.7L497.6 58.7M502.2 60.6L498.4 56.8M500.5 58.6L500.5 64.0M502.4 59.4L498.6 63.2M503.2 61.3L497.8 61.3M502.4 63.2L498.6 59.4M512.6 61.2L512.6 66.6M514.5 62.0L510.6 65.8M515.3 63.9L509.9 63.9M514.5 65.8L510.6 62.0M518.6 66.4L518.6 71.8M520.5 67.2L516.7 71.0M521.3 69.1L515.9 69.1M520.5 71.0L516.7 67.2M525.5 43.1L525.5 48.5M527.4 43.9L523.6 47.7M528.2 45.8L522.8 45.8M527.4 47.7L523.6 43.9M487.0 83.7L487.0 89.1M488.9 84.4L485.1 88.3M489.7 86.4L484.3 86.4M488.9 88.3L485.1 84.4M453.8 93.9L453.8 99.3M455.7 94.7L451.9 98.5M456.5 96.6L451.1 96.6M455.7 98.5L451.9 94.7M451.1 105.2L451.1 110.6M453.0 105.9L449.2 109.8M453.8 107.9L448.4 107.9M453.0 109.8L449.2 105.9M469.7 66.3L469.7 71.7M471.6 67.1L467.8 70.9M472.4 69.0L467.0 69.0M471.6 70.9L467.8 67.1M473.2 67.2L473.2 72.6M475.1 68.0L471.3 71.8M475.9 69.9L470.5 69.9M475.1 71.8L471.3 68.0M472.3 75.8L472.3 81.2M474.2 76.6L470.4 80.4M475.0 78.5L469.6 78.5M474.2 80.4L470.4 76.6M469.7 87.9L469.7 93.3M471.6 88.7L467.8 92.5M472.4 90.6L467.0 90.6M471.6 92.5L467.8 88.7M486.6 84.4L486.6 89.8M488.6 85.2L484.7 89.0M489.3 87.1L483.9 87.1M488.6 89.0L484.7 85.2M483.5 108.6L483.5 114.0M485.4 109.4L481.6 113.2M486.2 111.3L480.8 111.3M485.4 113.2L481.6 109.4M497.9 96.5L497.9 101.9M499.8 97.3L496.0 101.1M500.6 99.2L495.2 99.2M499.8 101.1L496.0 97.3M509.8 92.6L509.8 98.0M511.7 93.3L507.9 97.2M512.5 95.3L507.1 95.3M511.7 97.2L507.9 93.3M523.3 73.2L523.3 78.6M525.2 74.0L521.4 77.8M526.0 75.9L520.6 75.9M525.2 77.8L521.4 74.0M523.6 81.0L523.6 86.4M525.5 81.8L521.7 85.6M526.3 83.7L520.9 83.7M525.5 85.6L521.7 81.8M573.3 19.8L573.3 25.2M575.2 20.5L571.3 24.4M576.0 22.5L570.6 22.5M575.2 24.4L571.3 20.5M573.6 30.1L573.6 35.5M575.5 30.9L571.7 34.7M576.3 32.8L570.9 32.8M575.5 34.7L571.7 30.9M584.1 29.3L584.1 34.7M586.0 30.0L582.2 33.9M586.8 32.0L581.4 32.0M586.0 33.9L582.2 30.0M584.5 54.3L584.5 59.7M586.4 55.1L582.6 58.9M587.2 57.0L581.8 57.0M586.4 58.9L582.6 55.1M597.9 14.6L597.9 20.0M599.9 15.4L596.0 19.2M600.6 17.3L595.2 17.3M599.9 19.2L596.0 15.4M598.3 18.0L598.3 23.4M600.2 18.8L596.4 22.6M601.0 20.7L595.6 20.7M600.2 22.6L596.4 18.8M613.8 26.7L613.8 32.1M615.7 27.5L611.9 31.3M616.5 29.4L611.1 29.4M615.7 31.3L611.9 27.5M621.6 56.9L621.6 62.3M623.5 57.7L619.7 61.5M624.3 59.6L618.9 59.6M623.5 61.5L619.7 57.7M592.2 42.6L592.2 48.0M594.2 43.3L590.3 47.2M594.9 45.3L589.5 45.3M594.2 47.2L590.3 43.3M592.6 58.6L592.6 64.0M594.5 59.4L590.7 63.2M595.3 61.3L589.9 61.3M594.5 63.2L590.7 59.4M587.6 49.1L587.6 54.5M589.5 49.9L585.7 53.7M590.3 51.8L584.9 51.8M589.5 53.7L585.7 49.9M604.0 43.6L604.0 49.0M605.9 44.4L602.1 48.2M606.7 46.3L601.3 46.3M605.9 48.2L602.1 44.4M604.3 63.4L604.3 68.8M606.2 64.2L602.4 68.1M607.0 66.1L601.6 66.1M606.2 68.1L602.4 64.2M598.8 58.6L598.8 64.0M600.7 59.4L596.9 63.2M601.5 61.3L596.1 61.3M600.7 63.2L596.9 59.4M599.0 72.4L599.0 77.8M600.9 73.2L597.1 77.0M601.7 75.1L596.3 75.1M600.9 77.0L597.1 73.2M585.2 59.1L585.2 64.5M587.1 59.9L583.3 63.7M587.9 61.8L582.5 61.8M587.1 63.7L583.3 59.9M585.2 74.0L585.2 79.4M587.1 74.8L583.3 78.6M587.9 76.7L582.5 76.7M587.1 78.6L583.3 74.8M543.0 51.4L543.0 56.8M544.9 52.1L541.1 56.0M545.7 54.1L540.3 54.1M544.9 56.0L541.1 52.1M547.7 42.2L547.7 47.6M549.6 43.0L545.8 46.8M550.4 44.9L545.0 44.9M549.6 46.8L545.8 43.0M537.8 59.0L537.8 64.4M539.8 59.7L535.9 63.6M540.5 61.7L535.1 61.7M539.8 63.6L535.9 59.7M538.8 62.1L538.8 67.5M540.7 62.9L536.9 66.7M541.5 64.8L536.1 64.8M540.7 66.7L536.9 62.9M541.4 68.5L541.4 73.9M543.3 69.2L539.5 73.1M544.1 71.2L538.7 71.2M543.3 73.1L539.5 69.2M538.8 74.3L538.8 79.7M540.7 75.1L536.9 78.9M541.5 77.0L536.1 77.0M540.7 78.9L536.9 75.1M533.0 71.2L533.0 76.6M534.9 72.0L531.1 75.8M535.7 73.9L530.3 73.9M534.9 75.8L531.1 72.0M41.7 299.4L41.7 304.8M43.7 300.2L39.8 304.0M44.4 302.1L39.0 302.1M43.7 304.0L39.8 300.2M45.5 292.5L45.5 297.9M47.5 293.3L43.6 297.1M48.2 295.2L42.8 295.2M47.5 297.1L43.6 293.3M48.7 282.7L48.7 288.1M50.6 283.5L46.7 287.3M51.4 285.4L46.0 285.4M50.6 287.3L46.7 283.5M49.3 294.3L49.3 299.7M51.3 295.0L47.4 298.9M52.0 297.0L46.6 297.0M51.3 298.9L47.4 295.0M51.1 291.7L51.1 297.1M53.0 292.5L49.2 296.3M53.8 294.4L48.4 294.4M53.0 296.3L49.2 292.5M60.2 314.1L60.2 319.5M62.1 314.9L58.3 318.7M62.9 316.8L57.5 316.8M62.1 318.7L58.3 314.9M60.7 322.7L60.7 328.1M62.7 323.5L58.8 327.4M63.4 325.4L58.0 325.4M62.7 327.4L58.8 323.5M61.1 296.0L61.1 301.4M63.0 296.8L59.2 300.6M63.8 298.7L58.4 298.7M63.0 300.6L59.2 296.8M63.7 295.1L63.7 300.5M65.6 295.9L61.8 299.7M66.4 297.8L61.0 297.8M65.6 299.7L61.8 295.9M66.3 294.8L66.3 300.2M68.2 295.6L64.4 299.4M69.0 297.5L63.6 297.5M68.2 299.4L64.4 295.6M71.5 290.8L71.5 296.2M73.4 291.6L69.5 295.4M74.2 293.5L68.8 293.5M73.4 295.4L69.5 291.6M86.1 288.2L86.1 293.6M88.0 289.0L84.2 292.8M88.8 290.9L83.4 290.9M88.0 292.8L84.2 289.0M85.6 298.2L85.6 303.6M87.5 299.0L83.7 302.8M88.3 300.9L82.9 300.9M87.5 302.8L83.7 299.0M88.4 298.2L88.4 303.6M90.3 299.0L86.5 302.8M91.1 300.9L85.7 300.9M90.3 302.8L86.5 299.0M90.4 288.2L90.4 293.6M92.4 289.0L88.5 292.8M93.1 290.9L87.7 290.9M92.4 292.8L88.5 289.0M95.6 293.4L95.6 298.8M97.5 294.2L93.7 298.0M98.3 296.1L92.9 296.1M97.5 298.0L93.7 294.2M99.1 289.9L99.1 295.3M101.0 290.7L97.2 294.5M101.8 292.6L96.4 292.6M101.0 294.5L97.2 290.7M99.9 295.1L99.9 300.5M101.9 295.9L98.0 299.7M102.6 297.8L97.2 297.8M101.9 299.7L98.0 295.9M101.7 297.7L101.7 303.1M103.6 298.5L99.8 302.3M104.4 300.4L99.0 300.4M103.6 302.3L99.8 298.5M105.1 285.6L105.1 291.0M107.0 286.4L103.2 290.2M107.8 288.3L102.4 288.3M107.0 290.2L103.2 286.4M105.1 289.9L105.1 295.3M107.0 290.7L103.2 294.5M107.8 292.6L102.4 292.6M107.0 294.5L103.2 290.7M109.4 298.6L109.4 304.0M111.4 299.4L107.5 303.2M112.1 301.3L106.7 301.3M111.4 303.2L107.5 299.4M115.8 294.3L115.8 299.7M117.7 295.0L113.9 298.9M118.5 297.0L113.1 297.0M117.7 298.9L113.9 295.0M118.9 298.6L118.9 304.0M120.9 299.4L117.0 303.2M121.6 301.3L116.2 301.3M120.9 303.2L117.0 299.4M119.8 308.1L119.8 313.5M121.7 308.9L117.9 312.7M122.5 310.8L117.1 310.8M121.7 312.7L117.9 308.9M122.4 288.2L122.4 293.6M124.3 289.0L120.5 292.8M125.1 290.9L119.7 290.9M124.3 292.8L120.5 289.0M125.9 290.8L125.9 296.2M127.8 291.6L123.9 295.4M128.6 293.5L123.2 293.5M127.8 295.4L123.9 291.6M128.8 301.2L128.8 306.6M130.7 302.0L126.9 305.8M131.5 303.9L126.1 303.9M130.7 305.8L126.9 302.0M132.8 283.9L132.8 289.3M134.7 284.7L130.9 288.5M135.5 286.6L130.1 286.6M134.7 288.5L130.9 284.7M132.8 290.8L132.8 296.2M134.7 291.6L130.9 295.4M135.5 293.5L130.1 293.5M134.7 295.4L130.9 291.6M133.1 297.7L133.1 303.1M135.0 298.5L131.2 302.3M135.8 300.4L130.4 300.4M135.0 302.3L131.2 298.5M135.4 293.4L135.4 298.8M137.3 294.2L133.4 298.0M138.1 296.1L132.7 296.1M137.3 298.0L133.4 294.2M140.0 297.7L140.0 303.1M141.9 298.5L138.1 302.3M142.7 300.4L137.3 300.4M141.9 302.3L138.1 298.5M132.6 283.9L132.6 289.3M134.5 284.7L130.7 288.5M135.3 286.6L129.9 286.6M134.5 288.5L130.7 284.7M134.3 292.5L134.3 297.9M136.2 293.3L132.4 297.1M137.0 295.2L131.6 295.2M136.2 297.1L132.4 293.3M133.5 297.7L133.5 303.1M135.4 298.5L131.5 302.3M136.2 300.4L130.8 300.4M135.4 302.3L131.5 298.5M141.2 297.7L141.2 303.1M143.1 298.5L139.3 302.3M143.9 300.4L138.5 300.4M143.1 302.3L139.3 298.5M169.4 278.2L169.4 283.6M171.3 279.0L167.5 282.8M172.1 280.9L166.7 280.9M171.3 282.8L167.5 279.0M165.1 299.4L165.1 304.8M167.0 300.2L163.2 304.0M167.8 302.1L162.4 302.1M167.0 304.0L163.2 300.2M169.7 298.6L169.7 304.0M171.6 299.4L167.8 303.2M172.4 301.3L167.0 301.3M171.6 303.2L167.8 299.4M175.3 298.6L175.3 304.0M177.2 299.4L173.3 303.2M178.0 301.3L172.6 301.3M177.2 303.2L173.3 299.4M173.2 291.7L173.2 297.1M175.1 292.5L171.3 296.3M175.9 294.4L170.5 294.4M175.1 296.3L171.3 292.5M176.6 294.3L176.6 299.7M178.5 295.0L174.7 298.9M179.3 297.0L173.9 297.0M178.5 298.9L174.7 295.0M183.5 296.0L183.5 301.4M185.4 296.8L181.6 300.6M186.2 298.7L180.8 298.7M185.4 300.6L181.6 296.8M191.8 296.8L191.8 302.2M193.7 297.6L189.9 301.5M194.5 299.5L189.1 299.5M193.7 301.5L189.9 297.6M199.6 294.3L199.6 299.7M201.5 295.0L197.7 298.9M202.3 297.0L196.9 297.0M201.5 298.9L197.7 295.0M205.1 296.8L205.1 302.2M207.0 297.6L203.2 301.5M207.8 299.5L202.4 299.5M207.0 301.5L203.2 297.6M212.6 305.1L212.6 310.5M214.5 305.9L210.6 309.7M215.3 307.8L209.9 307.8M214.5 309.7L210.6 305.9M218.1 289.1L218.1 294.5M220.0 289.9L216.2 293.7M220.8 291.8L215.4 291.8M220.0 293.7L216.2 289.9M219.8 295.1L219.8 300.5M221.7 295.9L217.9 299.7M222.5 297.8L217.1 297.8M221.7 299.7L217.9 295.9M223.3 298.6L223.3 304.0M225.2 299.4L221.4 303.2M226.0 301.3L220.6 301.3M225.2 303.2L221.4 299.4M225.9 292.5L225.9 297.9M227.8 293.3L223.9 297.1M228.6 295.2L223.2 295.2M227.8 297.1L223.9 293.3M229.3 312.0L229.3 317.4M231.2 312.8L227.4 316.7M232.0 314.7L226.6 314.7M231.2 316.7L227.4 312.8M233.1 289.9L233.1 295.3M235.0 290.7L231.2 294.5M235.8 292.6L230.4 292.6M235.0 294.5L231.2 290.7M237.9 294.3L237.9 299.7M239.9 295.0L236.0 298.9M240.6 297.0L235.2 297.0M239.9 298.9L236.0 295.0M238.8 297.7L238.8 303.1M240.7 298.5L236.9 302.3M241.5 300.4L236.1 300.4M240.7 302.3L236.9 298.5M230.0 312.0L230.0 317.4M231.9 312.8L228.1 316.7M232.7 314.7L227.3 314.7M231.9 316.7L228.1 312.8M232.6 289.6L232.6 295.0M234.5 290.4L230.7 294.2M235.3 292.3L229.9 292.3M234.5 294.2L230.7 290.4M236.9 294.3L236.9 299.7M238.8 295.0L235.0 298.9M239.6 297.0L234.2 297.0M238.8 298.9L235.0 295.0M237.8 298.6L237.8 304.0M239.7 299.4L235.9 303.2M240.5 301.3L235.1 301.3M239.7 303.2L235.9 299.4M245.2 294.3L245.2 299.7M247.1 295.0L243.3 298.9M247.9 297.0L242.5 297.0M247.1 298.9L243.3 295.0M245.5 303.8L245.5 309.2M247.5 304.5L243.6 308.4M248.2 306.5L242.8 306.5M247.5 308.4L243.6 304.5M244.2 306.3L244.2 311.7M246.1 307.1L242.3 311.0M246.9 309.0L241.5 309.0M246.1 311.0L242.3 307.1M252.5 289.9L252.5 295.3M254.4 290.7L250.5 294.5M255.2 292.6L249.8 292.6M254.4 294.5L250.5 290.7M259.7 312.4L259.7 317.8M261.6 313.2L257.8 317.0M262.4 315.1L257.0 315.1M261.6 317.0L257.8 313.2M259.4 297.7L259.4 303.1M261.3 298.5L257.5 302.3M262.1 300.4L256.7 300.4M261.3 302.3L257.5 298.5M262.0 296.8L262.0 302.2M263.9 297.6L260.0 301.5M264.7 299.5L259.3 299.5M263.9 301.5L260.0 297.6M274.6 302.4L274.6 307.8M276.5 303.2L272.7 307.0M277.3 305.1L271.9 305.1M276.5 307.0L272.7 303.2M277.5 303.8L277.5 309.2M279.4 304.5L275.6 308.4M280.2 306.5L274.8 306.5M279.4 308.4L275.6 304.5M280.1 296.0L280.1 301.4M282.0 296.8L278.2 300.6M282.8 298.7L277.4 298.7M282.0 300.6L278.2 296.8M286.1 306.9L286.1 312.3M288.0 307.7L284.2 311.5M288.8 309.6L283.4 309.6M288.0 311.5L284.2 307.7M289.6 297.7L289.6 303.1M291.5 298.5L287.7 302.3M292.3 300.4L286.9 300.4M291.5 302.3L287.7 298.5M289.6 303.8L289.6 309.2M291.5 304.5L287.7 308.4M292.3 306.5L286.9 306.5M291.5 308.4L287.7 304.5M292.2 302.9L292.2 308.3M294.1 303.7L290.3 307.5M294.9 305.6L289.5 305.6M294.1 307.5L290.3 303.7M299.1 289.9L299.1 295.3M301.0 290.7L297.2 294.5M301.8 292.6L296.4 292.6M301.0 294.5L297.2 290.7M299.1 298.9L299.1 304.3M301.0 299.7L297.2 303.5M301.8 301.6L296.4 301.6M301.0 303.5L297.2 299.7M300.5 305.1L300.5 310.5M302.4 305.9L298.6 309.7M303.2 307.8L297.8 307.8M302.4 309.7L298.6 305.9M305.1 310.7L305.1 316.1M307.0 311.5L303.2 315.3M307.8 313.4L302.4 313.4M307.0 315.3L303.2 311.5M307.7 299.4L307.7 304.8M309.6 300.2L305.8 304.0M310.4 302.1L305.0 302.1M309.6 304.0L305.8 300.2M308.6 303.8L308.6 309.2M310.5 304.5L306.7 308.4M311.3 306.5L305.9 306.5M310.5 308.4L306.7 304.5M312.0 299.4L312.0 304.8M313.9 300.2L310.1 304.0M314.7 302.1L309.3 302.1M313.9 304.0L310.1 300.2M311.2 305.5L311.2 310.9M313.1 306.3L309.3 310.1M313.9 308.2L308.5 308.2M313.1 310.1L309.3 306.3M317.7 308.9L317.7 314.3M319.6 309.7L315.8 313.5M320.4 311.6L315.0 311.6M319.6 313.5L315.8 309.7M318.1 293.4L318.1 298.8M320.0 294.2L316.2 298.0M320.8 296.1L315.4 296.1M320.0 298.0L316.2 294.2M321.5 294.3L321.5 299.7M323.4 295.0L319.6 298.9M324.2 297.0L318.8 297.0M323.4 298.9L319.6 295.0M326.4 302.4L326.4 307.8M328.3 303.2L324.5 307.0M329.1 305.1L323.7 305.1M328.3 307.0L324.5 303.2M335.7 302.4L335.7 307.8M337.6 303.2L333.8 307.0M338.4 305.1L333.0 305.1M337.6 307.0L333.8 303.2M335.7 308.1L335.7 313.5M337.6 308.9L333.8 312.7M338.4 310.8L333.0 310.8M337.6 312.7L333.8 308.9M337.4 282.7L337.4 288.1M339.3 283.5L335.5 287.3M340.1 285.4L334.7 285.4M339.3 287.3L335.5 283.5M339.2 302.0L339.2 307.4M341.1 302.8L337.2 306.6M341.9 304.7L336.5 304.7M341.1 306.6L337.2 302.8M336.9 283.1L336.9 288.5M338.8 283.9L335.0 287.7M339.6 285.8L334.2 285.8M338.8 287.7L335.0 283.9M356.3 272.7L356.3 278.1M358.2 273.5L354.3 277.3M359.0 275.4L353.6 275.4M358.2 277.3L354.3 273.5M398.7 283.6L398.7 289.0M400.6 284.4L396.8 288.2M401.4 286.3L396.0 286.3M400.6 288.2L396.8 284.4M403.4 285.3L403.4 290.7M405.3 286.1L401.5 289.9M406.1 288.0L400.7 288.0M405.3 289.9L401.5 286.1M399.9 290.0L399.9 295.4M401.9 290.8L398.0 294.6M402.6 292.7L397.2 292.7M401.9 294.6L398.0 290.8M345.5 292.6L345.5 298.0M347.5 293.4L343.6 297.2M348.2 295.3L342.8 295.3M347.5 297.2L343.6 293.4M345.5 297.7L345.5 303.1M347.5 298.5L343.6 302.4M348.2 300.4L342.8 300.4M347.5 302.4L343.6 298.5M335.2 302.6L335.2 308.0M337.1 303.4L333.3 307.2M337.9 305.3L332.5 305.3M337.1 307.2L333.3 303.4M339.5 302.9L339.5 308.3M341.4 303.7L337.6 307.5M342.2 305.6L336.8 305.6M341.4 307.5L337.6 303.7M335.2 307.2L335.2 312.6M337.1 308.0L333.3 311.9M337.9 309.9L332.5 309.9M337.1 311.9L333.3 308.0M354.2 300.3L354.2 305.7M356.1 301.1L352.3 304.9M356.9 303.0L351.5 303.0M356.1 304.9L352.3 301.1M354.2 306.4L354.2 311.8M356.1 307.2L352.3 311.0M356.9 309.1L351.5 309.1M356.1 311.0L352.3 307.2M362.0 300.9L362.0 306.3M363.9 301.6L360.0 305.5M364.7 303.6L359.3 303.6M363.9 305.5L360.0 301.6M364.5 296.9L364.5 302.3M366.5 297.7L362.6 301.5M367.2 299.6L361.8 299.6M366.5 301.5L362.6 297.7M369.4 298.6L369.4 304.0M371.3 299.4L367.5 303.2M372.1 301.3L366.7 301.3M371.3 303.2L367.5 299.4M366.3 303.8L366.3 309.2M368.2 304.6L364.4 308.4M369.0 306.5L363.6 306.5M368.2 308.4L364.4 304.6M374.0 306.0L374.0 311.4M376.0 306.8L372.1 310.6M376.7 308.7L371.3 308.7M376.0 310.6L372.1 306.8M383.5 302.6L383.5 308.0M385.4 303.4L381.6 307.2M386.2 305.3L380.8 305.3M385.4 307.2L381.6 303.4M392.2 296.9L392.2 302.3M394.1 297.7L390.3 301.5M394.9 299.6L389.5 299.6M394.1 301.5L390.3 297.7M392.2 306.4L392.2 311.8M394.1 307.2L390.3 311.0M394.9 309.1L389.5 309.1M394.1 311.0L390.3 307.2M387.0 308.1L387.0 313.5M388.9 308.9L385.1 312.7M389.7 310.8L384.3 310.8M388.9 312.7L385.1 308.9M381.8 310.7L381.8 316.1M383.7 311.5L379.9 315.3M384.5 313.4L379.1 313.4M383.7 315.3L379.9 311.5M409.8 311.6L409.8 317.0M411.7 312.4L407.9 316.2M412.5 314.3L407.1 314.3M411.7 316.2L407.9 312.4M435.4 307.8L435.4 313.2M437.3 308.6L433.4 312.4M438.1 310.5L432.7 310.5M437.3 312.4L433.4 308.6M362.5 309.8L362.5 315.2M364.4 310.6L360.6 314.4M365.2 312.5L359.8 312.5M364.4 314.4L360.6 310.6M339.5 312.4L339.5 317.8M341.4 313.2L337.6 317.0M342.2 315.1L336.8 315.1M341.4 317.0L337.6 313.2M339.5 313.7L339.5 319.1M341.4 314.5L337.6 318.3M342.2 316.4L336.8 316.4M341.4 318.3L337.6 314.5M348.7 324.9L348.7 330.3M350.6 325.7L346.7 329.5M351.4 327.6L346.0 327.6M350.6 329.5L346.7 325.7M354.2 317.7L354.2 323.1M356.1 318.5L352.3 322.3M356.9 320.4L351.5 320.4M356.1 322.3L352.3 318.5M362.5 313.7L362.5 319.1M364.4 314.5L360.6 318.3M365.2 316.4L359.8 316.4M364.4 318.3L360.6 314.5M383.5 333.9L383.5 339.3M385.4 334.7L381.6 338.5M386.2 336.6L380.8 336.6M385.4 338.5L381.6 334.7M389.6 313.7L389.6 319.1M391.5 314.5L387.7 318.3M392.3 316.4L386.9 316.4M391.5 318.3L387.7 314.5M397.4 312.8L397.4 318.2M399.3 313.6L395.4 317.5M400.1 315.5L394.7 315.5M399.3 317.5L395.4 313.6M399.9 321.5L399.9 326.9M401.9 322.3L398.0 326.1M402.6 324.2L397.2 324.2M401.9 326.1L398.0 322.3M404.6 314.6L404.6 320.0M406.5 315.4L402.7 319.2M407.3 317.3L401.9 317.3M406.5 319.2L402.7 315.4M407.7 324.9L407.7 330.3M409.6 325.7L405.8 329.5M410.4 327.6L405.0 327.6M409.6 329.5L405.8 325.7M412.9 321.5L412.9 326.9M414.8 322.3L411.0 326.1M415.6 324.2L410.2 324.2M414.8 326.1L411.0 322.3M412.9 324.9L412.9 330.3M414.8 325.7L411.0 329.5M415.6 327.6L410.2 327.6M414.8 329.5L411.0 325.7M419.8 323.2L419.8 328.6M421.7 324.0L417.9 327.8M422.5 325.9L417.1 325.9M421.7 327.8L417.9 324.0M419.8 331.8L419.8 337.2M421.7 332.6L417.9 336.5M422.5 334.5L417.1 334.5M421.7 336.5L417.9 332.6M418.9 346.0L418.9 351.4M420.9 346.8L417.0 350.6M421.6 348.7L416.2 348.7M420.9 350.6L417.0 346.8M424.6 319.4L424.6 324.8M426.6 320.2L422.7 324.0M427.3 322.1L421.9 322.1M426.6 324.0L422.7 320.2M431.9 316.3L431.9 321.7M433.8 317.1L430.0 320.9M434.6 319.0L429.2 319.0M433.8 320.9L430.0 317.1M381.8 311.1L381.8 316.5M383.7 311.9L379.9 315.7M384.5 313.8L379.1 313.8M383.7 315.7L379.9 311.9M435.2 307.8L435.2 313.2M437.1 308.6L433.3 312.4M437.9 310.5L432.5 310.5M437.1 312.4L433.3 308.6M471.1 302.6L471.1 308.0M473.0 303.4L469.2 307.2M473.8 305.3L468.4 305.3M473.0 307.2L469.2 303.4M471.1 310.7L471.1 316.1M473.0 311.5L469.2 315.3M473.8 313.4L468.4 313.4M473.0 315.3L469.2 311.5M502.2 278.8L502.2 284.2M504.1 279.5L500.3 283.4M504.9 281.5L499.5 281.5M504.1 283.4L500.3 279.5M502.5 299.1L502.5 304.5M504.4 299.9L500.6 303.7M505.2 301.8L499.8 301.8M504.4 303.7L500.6 299.9M499.9 308.1L499.9 313.5M501.9 308.9L498.0 312.7M502.6 310.8L497.2 310.8M501.9 312.7L498.0 308.9M518.1 287.7L518.1 293.1M520.0 288.5L516.2 292.3M520.8 290.4L515.4 290.4M520.0 292.3L516.2 288.5M527.6 310.7L527.6 316.1M529.5 311.5L525.7 315.3M530.3 313.4L524.9 313.4M529.5 315.3L525.7 311.5M525.0 314.2L525.0 319.6M526.9 314.9L523.1 318.8M527.7 316.9L522.3 316.9M526.9 318.8L523.1 314.9M539.7 299.5L539.7 304.9M541.6 300.3L537.8 304.1M542.4 302.2L537.0 302.2M541.6 304.1L537.8 300.3M432.6 316.8L432.6 322.2M434.5 317.6L430.7 321.4M435.3 319.5L429.9 319.5M434.5 321.4L430.7 317.6M449.9 322.5L449.9 327.9M451.8 323.3L448.0 327.1M452.6 325.2L447.2 325.2M451.8 327.1L448.0 323.3M455.0 318.5L455.0 323.9M457.0 319.3L453.1 323.1M457.7 321.2L452.3 321.2M457.0 323.1L453.1 319.3M455.6 321.1L455.6 326.5M457.5 321.9L453.7 325.7M458.3 323.8L452.9 323.8M457.5 325.7L453.7 321.9M474.0 332.3L474.0 337.7M476.0 333.1L472.1 337.0M476.7 335.0L471.3 335.0M476.0 337.0L472.1 333.1M471.8 338.0L471.8 343.4M473.7 338.8L469.9 342.7M474.5 340.7L469.1 340.7M473.7 342.7L469.9 338.8M484.9 321.1L484.9 326.5M486.8 321.9L483.0 325.7M487.6 323.8L482.2 323.8M486.8 325.7L483.0 321.9M488.7 316.8L488.7 322.2M490.6 317.6L486.8 321.4M491.4 319.5L486.0 319.5M490.6 321.4L486.8 317.6M487.0 332.3L487.0 337.7M488.9 333.1L485.1 337.0M489.7 335.0L484.3 335.0M488.9 337.0L485.1 333.1M490.1 337.0L490.1 342.4M492.0 337.8L488.2 341.6M492.8 339.7L487.4 339.7M492.0 341.6L488.2 337.8M499.4 354.3L499.4 359.7M501.3 355.1L497.5 358.9M502.1 357.0L496.7 357.0M501.3 358.9L497.5 355.1M514.3 321.1L514.3 326.5M516.2 321.9L512.4 325.7M517.0 323.8L511.6 323.8M516.2 325.7L512.4 321.9M511.5 331.1L511.5 336.5M513.4 331.9L509.6 335.7M514.2 333.8L508.8 333.8M513.4 335.7L509.6 331.9M520.2 353.6L520.2 359.0M522.1 354.4L518.2 358.2M522.9 356.3L517.5 356.3M522.1 358.2L518.2 354.4M528.4 377.2L528.4 382.6M530.4 378.0L526.5 381.9M531.1 379.9L525.7 379.9M530.4 381.9L526.5 378.0M526.4 322.0L526.4 327.4M528.3 322.8L524.5 326.6M529.1 324.7L523.7 324.7M528.3 326.6L524.5 322.8M534.5 324.2L534.5 329.6M536.4 325.0L532.6 328.8M537.2 326.9L531.8 326.9M536.4 328.8L532.6 325.0M537.4 332.3L537.4 337.7M539.3 333.1L535.5 337.0M540.1 335.0L534.7 335.0M539.3 337.0L535.5 333.1M539.2 347.9L539.2 353.3M541.1 348.7L537.2 352.5M541.9 350.6L536.5 350.6M541.1 352.5L537.2 348.7M541.5 296.3L541.5 301.7M543.4 297.1L539.6 300.9M544.2 299.0L538.8 299.0M543.4 300.9L539.6 297.1M540.1 299.2L540.1 304.6M542.0 300.0L538.2 303.9M542.8 301.9L537.4 301.9M542.0 303.9L538.2 300.0M546.1 306.2L546.1 311.6M548.0 306.9L544.2 310.8M548.8 308.9L543.4 308.9M548.0 310.8L544.2 306.9M600.5 293.5L600.5 298.9M602.4 294.3L598.6 298.2M603.2 296.2L597.8 296.2M602.4 298.2L598.6 294.3M606.1 291.5L606.1 296.9M608.0 292.3L604.2 296.1M608.8 294.2L603.4 294.2M608.0 296.1L604.2 292.3M600.2 301.0L600.2 306.4M602.1 301.8L598.3 305.6M602.9 303.7L597.5 303.7M602.1 305.6L598.3 301.8M619.9 275.9L619.9 281.3M621.8 276.7L618.0 280.5M622.6 278.6L617.2 278.6M621.8 280.5L618.0 276.7M528.0 310.1L528.0 315.5M529.9 310.9L526.1 314.7M530.7 312.8L525.3 312.8M529.9 314.7L526.1 310.9M543.2 314.7L543.2 320.1M545.1 315.5L541.3 319.3M545.9 317.4L540.5 317.4M545.1 319.3L541.3 315.5M534.6 324.4L534.6 329.8M536.5 325.2L532.7 329.0M537.3 327.1L531.9 327.1M536.5 329.0L532.7 325.2M537.5 332.0L537.5 337.4M539.4 332.8L535.6 336.6M540.2 334.7L534.8 334.7M539.4 336.6L535.6 332.8M549.6 332.5L549.6 337.9M551.5 333.3L547.7 337.1M552.3 335.2L546.9 335.2M551.5 337.1L547.7 333.3M545.3 344.6L545.3 350.0M547.2 345.4L543.4 349.2M548.0 347.3L542.6 347.3M547.2 349.2L543.4 345.4M540.1 347.6L540.1 353.0M542.0 348.3L538.2 352.2M542.8 350.3L537.4 350.3M542.0 352.2L538.2 348.3M563.1 340.6L563.1 346.0M565.0 341.4L561.2 345.3M565.8 343.3L560.4 343.3M565.0 345.3L561.2 341.4M575.5 332.5L575.5 337.9M577.4 333.3L573.6 337.1M578.2 335.2L572.8 335.2M577.4 337.1L573.6 333.3M575.5 367.6L575.5 373.0M577.4 368.4L573.6 372.2M578.2 370.3L572.8 370.3M577.4 372.2L573.6 368.4M586.7 351.0L586.7 356.4M588.6 351.8L584.8 355.6M589.4 353.7L584.0 353.7M588.6 355.6L584.8 351.8M588.1 310.1L588.1 315.5M590.0 310.9L586.2 314.7M590.8 312.8L585.4 312.8M590.0 314.7L586.2 310.9M594.5 324.4L594.5 329.8M596.4 325.2L592.6 329.0M597.2 327.1L591.8 327.1M596.4 329.0L592.6 325.2M600.5 329.1L600.5 334.5M602.4 329.9L598.6 333.7M603.2 331.8L597.8 331.8M602.4 333.7L598.6 329.9M601.4 326.1L601.4 331.5M603.3 326.9L599.5 330.7M604.1 328.8L598.7 328.8M603.3 330.7L599.5 326.9M606.1 325.6L606.1 331.0M608.0 326.4L604.2 330.2M608.8 328.3L603.4 328.3M608.0 330.2L604.2 326.4M594.5 348.1L594.5 353.5M596.4 348.9L592.6 352.7M597.2 350.8L591.8 350.8M596.4 352.7L592.6 348.9M597.4 352.7L597.4 358.1M599.3 353.5L595.5 357.3M600.1 355.4L594.7 355.4M599.3 357.3L595.5 353.5M623.9 345.8L623.9 351.2M625.8 346.6L621.9 350.4M626.6 348.5L621.2 348.5M625.8 350.4L621.9 346.6M616.1 368.8L616.1 374.2M618.0 369.6L614.2 373.4M618.8 371.5L613.4 371.5M618.0 373.4L614.2 369.6M528.9 377.4L528.9 382.8M530.8 378.2L527.0 382.0M531.6 380.1L526.2 380.1M530.8 382.0L527.0 378.2" fill="none" stroke="#b4622a" stroke-width="1.0"/>
</svg>
</body></html>
